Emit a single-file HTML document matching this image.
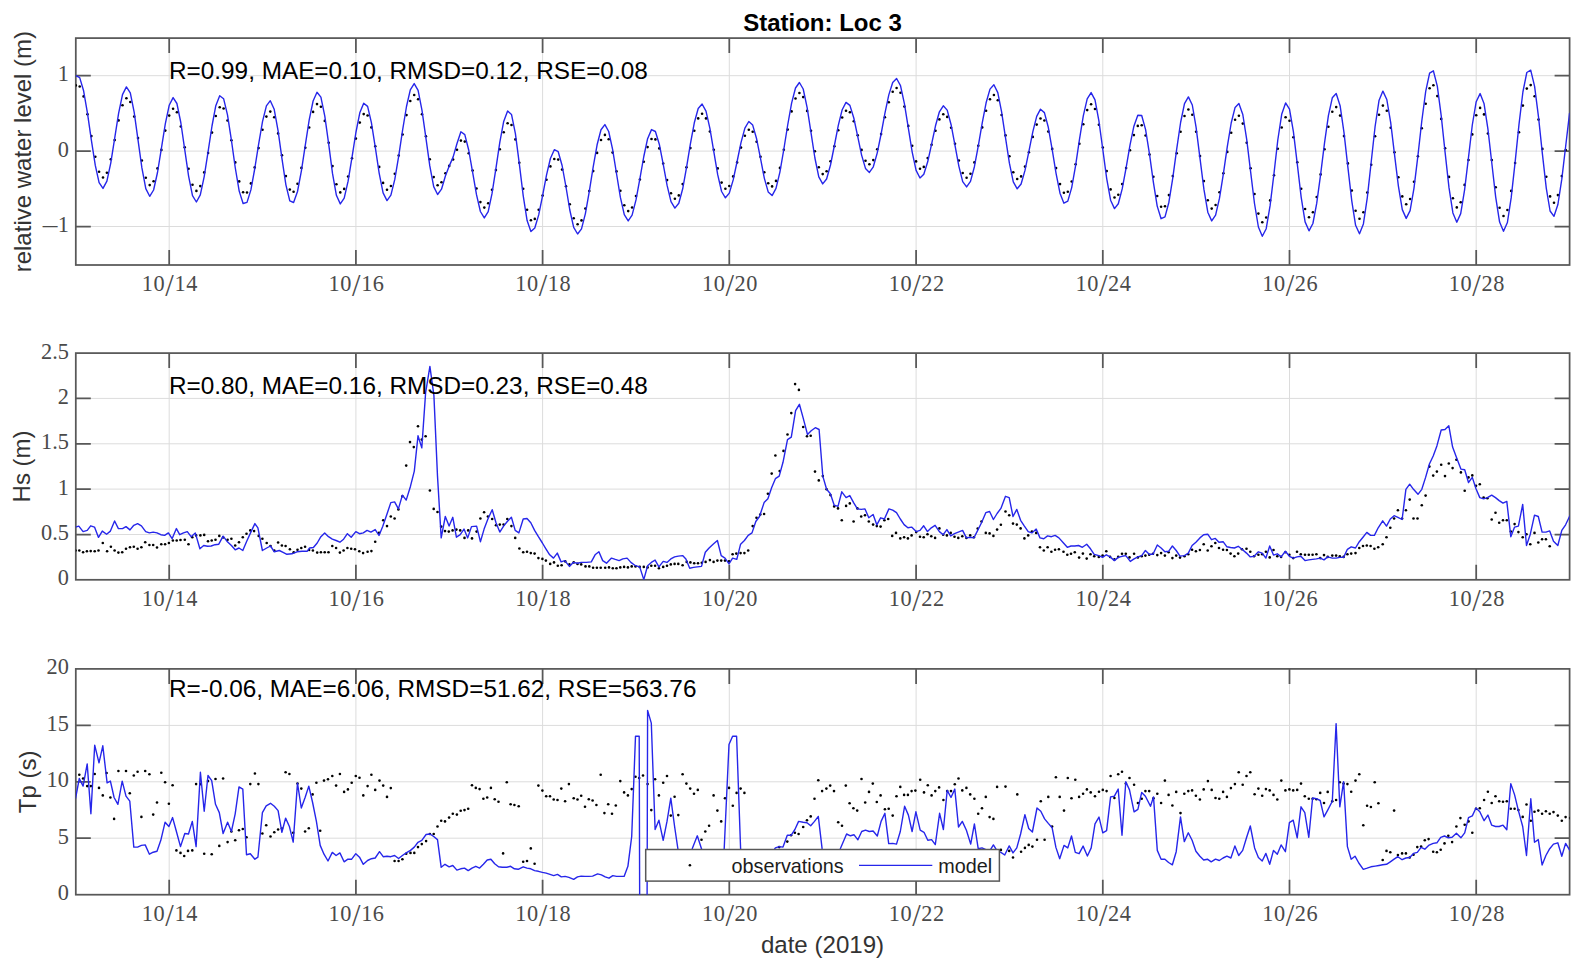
<!DOCTYPE html>
<html lang="en"><head><meta charset="utf-8"><title>Station: Loc 3</title>
<style>html,body{margin:0;padding:0;background:#fff}svg{display:block}</style></head>
<body>
<svg width="1586" height="968" viewBox="0 0 1586 968">
<rect width="1586" height="968" fill="#fff"/>
<defs>
<clipPath id="c0"><rect x="75.8" y="38.1" width="1493.8" height="226.9"/></clipPath>
<clipPath id="c1"><rect x="75.8" y="353.1" width="1493.8" height="226.7"/></clipPath>
<clipPath id="c2"><rect x="75.8" y="668.9" width="1493.8" height="225.8"/></clipPath>
</defs>
<g id="panel1">
<path d="M169.2 38.1V265M355.9 38.1V265M542.6 38.1V265M729.3 38.1V265M916.1 38.1V265M1102.8 38.1V265M1289.5 38.1V265M1476.2 38.1V265M75.8 226.5H1569.6M75.8 151.1H1569.6M75.8 75.7H1569.6" stroke="#dcdcdc" stroke-width="1" fill="none"/>
<path d="M169.2 38.1v15M169.2 265v-15M355.9 38.1v15M355.9 265v-15M542.6 38.1v15M542.6 265v-15M729.3 38.1v15M729.3 265v-15M916.1 38.1v15M916.1 265v-15M1102.8 38.1v15M1102.8 265v-15M1289.5 38.1v15M1289.5 265v-15M1476.2 38.1v15M1476.2 265v-15M75.8 226.5h15M1569.6 226.5h-15M75.8 151.1h15M1569.6 151.1h-15M75.8 75.7h15M1569.6 75.7h-15" stroke="#585858" stroke-width="1.75" fill="none"/>
<rect x="75.8" y="38.1" width="1493.8" height="226.9" fill="none" stroke="#585858" stroke-width="1.75"/>
<g clip-path="url(#c0)">
<g fill="#000"><circle cx="75.8" cy="85.4" r="1.3"/><circle cx="79.7" cy="86.5" r="1.3"/><circle cx="83.6" cy="96.4" r="1.3"/><circle cx="87.5" cy="114.3" r="1.3"/><circle cx="91.4" cy="136.1" r="1.3"/><circle cx="95.3" cy="156.8" r="1.3"/><circle cx="99.1" cy="171.8" r="1.3"/><circle cx="103" cy="177.5" r="1.3"/><circle cx="106.9" cy="172.8" r="1.3"/><circle cx="110.8" cy="159.2" r="1.3"/><circle cx="114.7" cy="140.1" r="1.3"/><circle cx="118.6" cy="120.4" r="1.3"/><circle cx="122.5" cy="105.2" r="1.3"/><circle cx="126.4" cy="98.2" r="1.3"/><circle cx="130.3" cy="102" r="1.3"/><circle cx="134.2" cy="116.6" r="1.3"/><circle cx="138" cy="138.1" r="1.3"/><circle cx="141.9" cy="160.5" r="1.3"/><circle cx="145.8" cy="177.8" r="1.3"/><circle cx="149.7" cy="185.1" r="1.3"/><circle cx="153.6" cy="181.2" r="1.3"/><circle cx="157.5" cy="168.4" r="1.3"/><circle cx="161.4" cy="149.9" r="1.3"/><circle cx="165.3" cy="130.6" r="1.3"/><circle cx="169.2" cy="115.6" r="1.3"/><circle cx="173.1" cy="108.7" r="1.3"/><circle cx="176.9" cy="112.3" r="1.3"/><circle cx="180.8" cy="126.5" r="1.3"/><circle cx="184.7" cy="147.2" r="1.3"/><circle cx="188.6" cy="168.7" r="1.3"/><circle cx="192.5" cy="184.8" r="1.3"/><circle cx="196.4" cy="190.9" r="1.3"/><circle cx="200.3" cy="186.1" r="1.3"/><circle cx="204.2" cy="172.4" r="1.3"/><circle cx="208.1" cy="153" r="1.3"/><circle cx="212" cy="132.6" r="1.3"/><circle cx="215.8" cy="116" r="1.3"/><circle cx="219.7" cy="107.2" r="1.3"/><circle cx="223.6" cy="108.5" r="1.3"/><circle cx="227.5" cy="120.5" r="1.3"/><circle cx="231.4" cy="140.2" r="1.3"/><circle cx="235.3" cy="162.4" r="1.3"/><circle cx="239.2" cy="181.4" r="1.3"/><circle cx="243.1" cy="192.3" r="1.3"/><circle cx="247" cy="192.5" r="1.3"/><circle cx="250.9" cy="183.4" r="1.3"/><circle cx="254.7" cy="167.4" r="1.3"/><circle cx="258.6" cy="148.1" r="1.3"/><circle cx="262.5" cy="129.8" r="1.3"/><circle cx="266.4" cy="116.6" r="1.3"/><circle cx="270.3" cy="111.6" r="1.3"/><circle cx="274.2" cy="117.2" r="1.3"/><circle cx="278.1" cy="133.4" r="1.3"/><circle cx="282" cy="155.2" r="1.3"/><circle cx="285.9" cy="176.1" r="1.3"/><circle cx="289.8" cy="189.6" r="1.3"/><circle cx="293.6" cy="191.8" r="1.3"/><circle cx="297.5" cy="183.8" r="1.3"/><circle cx="301.4" cy="167.9" r="1.3"/><circle cx="305.3" cy="147.7" r="1.3"/><circle cx="309.2" cy="127.5" r="1.3"/><circle cx="313.1" cy="111.9" r="1.3"/><circle cx="317" cy="104.1" r="1.3"/><circle cx="320.9" cy="106.7" r="1.3"/><circle cx="324.8" cy="120.9" r="1.3"/><circle cx="328.7" cy="142.7" r="1.3"/><circle cx="332.5" cy="166.1" r="1.3"/><circle cx="336.4" cy="184.3" r="1.3"/><circle cx="340.3" cy="192.4" r="1.3"/><circle cx="344.2" cy="188.9" r="1.3"/><circle cx="348.1" cy="176.5" r="1.3"/><circle cx="352" cy="158.2" r="1.3"/><circle cx="355.9" cy="138.6" r="1.3"/><circle cx="359.8" cy="122.6" r="1.3"/><circle cx="363.7" cy="114.1" r="1.3"/><circle cx="367.6" cy="115.5" r="1.3"/><circle cx="371.4" cy="127.4" r="1.3"/><circle cx="375.3" cy="146.3" r="1.3"/><circle cx="379.2" cy="166.9" r="1.3"/><circle cx="383.1" cy="182.9" r="1.3"/><circle cx="387" cy="189.7" r="1.3"/><circle cx="390.9" cy="186" r="1.3"/><circle cx="394.8" cy="173.8" r="1.3"/><circle cx="398.7" cy="155.5" r="1.3"/><circle cx="402.6" cy="134.5" r="1.3"/><circle cx="406.5" cy="115.1" r="1.3"/><circle cx="410.3" cy="101" r="1.3"/><circle cx="414.2" cy="95" r="1.3"/><circle cx="418.1" cy="99.2" r="1.3"/><circle cx="422" cy="114.2" r="1.3"/><circle cx="425.9" cy="136.2" r="1.3"/><circle cx="429.8" cy="159.2" r="1.3"/><circle cx="433.7" cy="177.1" r="1.3"/><circle cx="437.6" cy="185.2" r="1.3"/><circle cx="441.5" cy="182.3" r="1.3"/><circle cx="445.4" cy="173.2" r="1.3"/><circle cx="449.2" cy="165.9" r="1.3"/><circle cx="453.1" cy="159.5" r="1.3"/><circle cx="457" cy="149.8" r="1.3"/><circle cx="460.9" cy="140.6" r="1.3"/><circle cx="464.8" cy="141.6" r="1.3"/><circle cx="468.7" cy="153.3" r="1.3"/><circle cx="472.6" cy="170.5" r="1.3"/><circle cx="476.5" cy="188.5" r="1.3"/><circle cx="480.4" cy="202.1" r="1.3"/><circle cx="484.3" cy="207.6" r="1.3"/><circle cx="488.2" cy="203.3" r="1.3"/><circle cx="492" cy="189.7" r="1.3"/><circle cx="495.9" cy="170.1" r="1.3"/><circle cx="499.8" cy="149.2" r="1.3"/><circle cx="503.7" cy="132.3" r="1.3"/><circle cx="507.6" cy="123.2" r="1.3"/><circle cx="511.5" cy="125" r="1.3"/><circle cx="515.4" cy="139.4" r="1.3"/><circle cx="519.3" cy="162.8" r="1.3"/><circle cx="523.2" cy="188.7" r="1.3"/><circle cx="527.1" cy="209.8" r="1.3"/><circle cx="530.9" cy="220.3" r="1.3"/><circle cx="534.8" cy="218.9" r="1.3"/><circle cx="538.7" cy="209.8" r="1.3"/><circle cx="542.6" cy="195.6" r="1.3"/><circle cx="546.5" cy="179.8" r="1.3"/><circle cx="550.4" cy="166.4" r="1.3"/><circle cx="554.3" cy="159" r="1.3"/><circle cx="558.2" cy="159.6" r="1.3"/><circle cx="562.1" cy="169.6" r="1.3"/><circle cx="566" cy="186.2" r="1.3"/><circle cx="569.8" cy="204.2" r="1.3"/><circle cx="573.7" cy="218.3" r="1.3"/><circle cx="577.6" cy="224.2" r="1.3"/><circle cx="581.5" cy="220.4" r="1.3"/><circle cx="585.4" cy="208.6" r="1.3"/><circle cx="589.3" cy="191" r="1.3"/><circle cx="593.2" cy="171.1" r="1.3"/><circle cx="597.1" cy="152.9" r="1.3"/><circle cx="601" cy="140" r="1.3"/><circle cx="604.9" cy="134.9" r="1.3"/><circle cx="608.7" cy="139.2" r="1.3"/><circle cx="612.6" cy="152.6" r="1.3"/><circle cx="616.5" cy="171.4" r="1.3"/><circle cx="620.4" cy="190.7" r="1.3"/><circle cx="624.3" cy="205.2" r="1.3"/><circle cx="628.2" cy="211.1" r="1.3"/><circle cx="632.1" cy="207.5" r="1.3"/><circle cx="636" cy="196" r="1.3"/><circle cx="639.9" cy="179.5" r="1.3"/><circle cx="643.8" cy="161.8" r="1.3"/><circle cx="647.6" cy="147.1" r="1.3"/><circle cx="651.5" cy="139" r="1.3"/><circle cx="655.4" cy="139.4" r="1.3"/><circle cx="659.3" cy="148.4" r="1.3"/><circle cx="663.2" cy="163.5" r="1.3"/><circle cx="667.1" cy="180.1" r="1.3"/><circle cx="671" cy="193.2" r="1.3"/><circle cx="674.9" cy="198.8" r="1.3"/><circle cx="678.8" cy="195.4" r="1.3"/><circle cx="682.7" cy="184.1" r="1.3"/><circle cx="686.5" cy="167.2" r="1.3"/><circle cx="690.4" cy="148.1" r="1.3"/><circle cx="694.3" cy="130.7" r="1.3"/><circle cx="698.2" cy="118.4" r="1.3"/><circle cx="702.1" cy="113.8" r="1.3"/><circle cx="706" cy="118.4" r="1.3"/><circle cx="709.9" cy="131.5" r="1.3"/><circle cx="713.8" cy="149.8" r="1.3"/><circle cx="717.7" cy="168.4" r="1.3"/><circle cx="721.6" cy="182.6" r="1.3"/><circle cx="725.4" cy="188.7" r="1.3"/><circle cx="729.3" cy="186" r="1.3"/><circle cx="733.2" cy="176.4" r="1.3"/><circle cx="737.1" cy="162.4" r="1.3"/><circle cx="741" cy="147.6" r="1.3"/><circle cx="744.9" cy="135.7" r="1.3"/><circle cx="748.8" cy="129.8" r="1.3"/><circle cx="752.7" cy="131.8" r="1.3"/><circle cx="756.6" cy="141.8" r="1.3"/><circle cx="760.5" cy="156.8" r="1.3"/><circle cx="764.3" cy="172.2" r="1.3"/><circle cx="768.2" cy="183.3" r="1.3"/><circle cx="772.1" cy="186.4" r="1.3"/><circle cx="776" cy="180.9" r="1.3"/><circle cx="779.9" cy="167.9" r="1.3"/><circle cx="783.8" cy="149.7" r="1.3"/><circle cx="787.7" cy="129.6" r="1.3"/><circle cx="791.6" cy="111.4" r="1.3"/><circle cx="795.5" cy="98.5" r="1.3"/><circle cx="799.4" cy="93" r="1.3"/><circle cx="803.2" cy="97.1" r="1.3"/><circle cx="807.1" cy="110.9" r="1.3"/><circle cx="811" cy="130.7" r="1.3"/><circle cx="814.9" cy="151.3" r="1.3"/><circle cx="818.8" cy="167.2" r="1.3"/><circle cx="822.7" cy="174.1" r="1.3"/><circle cx="826.6" cy="171.3" r="1.3"/><circle cx="830.5" cy="161.2" r="1.3"/><circle cx="834.4" cy="146.2" r="1.3"/><circle cx="838.3" cy="130.3" r="1.3"/><circle cx="842.2" cy="117.5" r="1.3"/><circle cx="846" cy="110.8" r="1.3"/><circle cx="849.9" cy="112.2" r="1.3"/><circle cx="853.8" cy="121.3" r="1.3"/><circle cx="857.7" cy="135.2" r="1.3"/><circle cx="861.6" cy="149.9" r="1.3"/><circle cx="865.5" cy="160.7" r="1.3"/><circle cx="869.4" cy="164.3" r="1.3"/><circle cx="873.3" cy="160.1" r="1.3"/><circle cx="877.2" cy="149.3" r="1.3"/><circle cx="881.1" cy="134.1" r="1.3"/><circle cx="884.9" cy="117.3" r="1.3"/><circle cx="888.8" cy="102.3" r="1.3"/><circle cx="892.7" cy="91.8" r="1.3"/><circle cx="896.6" cy="88" r="1.3"/><circle cx="900.5" cy="92.8" r="1.3"/><circle cx="904.4" cy="106.6" r="1.3"/><circle cx="908.3" cy="125.9" r="1.3"/><circle cx="912.2" cy="145.8" r="1.3"/><circle cx="916.1" cy="161.4" r="1.3"/><circle cx="920" cy="168.7" r="1.3"/><circle cx="923.8" cy="166.9" r="1.3"/><circle cx="927.7" cy="158.1" r="1.3"/><circle cx="931.6" cy="144.8" r="1.3"/><circle cx="935.5" cy="130.7" r="1.3"/><circle cx="939.4" cy="119.4" r="1.3"/><circle cx="943.3" cy="114.2" r="1.3"/><circle cx="947.2" cy="116.9" r="1.3"/><circle cx="951.1" cy="127.7" r="1.3"/><circle cx="955" cy="143.8" r="1.3"/><circle cx="958.9" cy="160.5" r="1.3"/><circle cx="962.7" cy="173" r="1.3"/><circle cx="966.6" cy="177.7" r="1.3"/><circle cx="970.5" cy="173.8" r="1.3"/><circle cx="974.4" cy="162.4" r="1.3"/><circle cx="978.3" cy="145.8" r="1.3"/><circle cx="982.2" cy="127.4" r="1.3"/><circle cx="986.1" cy="110.7" r="1.3"/><circle cx="990" cy="99.2" r="1.3"/><circle cx="993.9" cy="95" r="1.3"/><circle cx="997.8" cy="100.3" r="1.3"/><circle cx="1001.6" cy="115" r="1.3"/><circle cx="1005.5" cy="135.4" r="1.3"/><circle cx="1009.4" cy="156.3" r="1.3"/><circle cx="1013.3" cy="172.2" r="1.3"/><circle cx="1017.2" cy="179" r="1.3"/><circle cx="1021.1" cy="176.4" r="1.3"/><circle cx="1025" cy="166.6" r="1.3"/><circle cx="1028.9" cy="152.2" r="1.3"/><circle cx="1032.8" cy="136.9" r="1.3"/><circle cx="1036.7" cy="124.6" r="1.3"/><circle cx="1040.5" cy="118.5" r="1.3"/><circle cx="1044.4" cy="120.5" r="1.3"/><circle cx="1048.3" cy="131.6" r="1.3"/><circle cx="1052.2" cy="148.9" r="1.3"/><circle cx="1056.1" cy="168.1" r="1.3"/><circle cx="1060" cy="184.1" r="1.3"/><circle cx="1063.9" cy="192.7" r="1.3"/><circle cx="1067.8" cy="191.7" r="1.3"/><circle cx="1071.7" cy="181.5" r="1.3"/><circle cx="1075.6" cy="164.3" r="1.3"/><circle cx="1079.4" cy="143.7" r="1.3"/><circle cx="1083.3" cy="124.2" r="1.3"/><circle cx="1087.2" cy="110.1" r="1.3"/><circle cx="1091.1" cy="104.2" r="1.3"/><circle cx="1095" cy="109" r="1.3"/><circle cx="1098.9" cy="124.8" r="1.3"/><circle cx="1102.8" cy="147.5" r="1.3"/><circle cx="1106.7" cy="171.1" r="1.3"/><circle cx="1110.6" cy="189.4" r="1.3"/><circle cx="1114.5" cy="197.5" r="1.3"/><circle cx="1118.3" cy="194.8" r="1.3"/><circle cx="1122.2" cy="184.1" r="1.3"/><circle cx="1126.1" cy="168" r="1.3"/><circle cx="1130" cy="150.3" r="1.3"/><circle cx="1133.9" cy="135.1" r="1.3"/><circle cx="1137.8" cy="125.9" r="1.3"/><circle cx="1141.7" cy="125.2" r="1.3"/><circle cx="1145.6" cy="135.5" r="1.3"/><circle cx="1149.5" cy="154.5" r="1.3"/><circle cx="1153.4" cy="176.7" r="1.3"/><circle cx="1157.2" cy="196" r="1.3"/><circle cx="1161.1" cy="206.8" r="1.3"/><circle cx="1165" cy="206.2" r="1.3"/><circle cx="1168.9" cy="195.1" r="1.3"/><circle cx="1172.8" cy="176.1" r="1.3"/><circle cx="1176.7" cy="153.3" r="1.3"/><circle cx="1180.6" cy="131.7" r="1.3"/><circle cx="1184.5" cy="116" r="1.3"/><circle cx="1188.4" cy="109.5" r="1.3"/><circle cx="1192.3" cy="114.8" r="1.3"/><circle cx="1196.1" cy="131.8" r="1.3"/><circle cx="1200" cy="156" r="1.3"/><circle cx="1203.9" cy="181.1" r="1.3"/><circle cx="1207.8" cy="200.3" r="1.3"/><circle cx="1211.7" cy="208.6" r="1.3"/><circle cx="1215.6" cy="205" r="1.3"/><circle cx="1219.5" cy="192.3" r="1.3"/><circle cx="1223.4" cy="173.3" r="1.3"/><circle cx="1227.3" cy="151.9" r="1.3"/><circle cx="1231.2" cy="132.7" r="1.3"/><circle cx="1235.1" cy="119.7" r="1.3"/><circle cx="1238.9" cy="115.8" r="1.3"/><circle cx="1242.8" cy="123.6" r="1.3"/><circle cx="1246.7" cy="142.7" r="1.3"/><circle cx="1250.6" cy="168.3" r="1.3"/><circle cx="1254.5" cy="194" r="1.3"/><circle cx="1258.4" cy="213.6" r="1.3"/><circle cx="1262.3" cy="222.2" r="1.3"/><circle cx="1266.2" cy="217.5" r="1.3"/><circle cx="1270.1" cy="200.4" r="1.3"/><circle cx="1274" cy="175.3" r="1.3"/><circle cx="1277.8" cy="148.7" r="1.3"/><circle cx="1281.7" cy="127.5" r="1.3"/><circle cx="1285.6" cy="117.3" r="1.3"/><circle cx="1289.5" cy="120.7" r="1.3"/><circle cx="1293.4" cy="137.3" r="1.3"/><circle cx="1297.3" cy="162.3" r="1.3"/><circle cx="1301.2" cy="188.7" r="1.3"/><circle cx="1305.1" cy="209" r="1.3"/><circle cx="1309" cy="217.2" r="1.3"/><circle cx="1312.9" cy="212.3" r="1.3"/><circle cx="1316.7" cy="197" r="1.3"/><circle cx="1320.6" cy="174.4" r="1.3"/><circle cx="1324.5" cy="149.3" r="1.3"/><circle cx="1328.4" cy="126.8" r="1.3"/><circle cx="1332.3" cy="111.7" r="1.3"/><circle cx="1336.2" cy="107.1" r="1.3"/><circle cx="1340.1" cy="115.6" r="1.3"/><circle cx="1344" cy="136.1" r="1.3"/><circle cx="1347.9" cy="163.4" r="1.3"/><circle cx="1351.8" cy="190.6" r="1.3"/><circle cx="1355.6" cy="210.8" r="1.3"/><circle cx="1359.5" cy="218.8" r="1.3"/><circle cx="1363.4" cy="212.3" r="1.3"/><circle cx="1367.3" cy="192.6" r="1.3"/><circle cx="1371.2" cy="164.8" r="1.3"/><circle cx="1375.1" cy="136.3" r="1.3"/><circle cx="1379" cy="114.7" r="1.3"/><circle cx="1382.9" cy="105.6" r="1.3"/><circle cx="1386.8" cy="110.8" r="1.3"/><circle cx="1390.7" cy="127.8" r="1.3"/><circle cx="1394.5" cy="152.2" r="1.3"/><circle cx="1398.4" cy="177.3" r="1.3"/><circle cx="1402.3" cy="196.4" r="1.3"/><circle cx="1406.2" cy="204.3" r="1.3"/><circle cx="1410.1" cy="199" r="1.3"/><circle cx="1414" cy="181.7" r="1.3"/><circle cx="1417.9" cy="156.3" r="1.3"/><circle cx="1421.8" cy="128.3" r="1.3"/><circle cx="1425.7" cy="103.8" r="1.3"/><circle cx="1429.6" cy="88.3" r="1.3"/><circle cx="1433.4" cy="85.2" r="1.3"/><circle cx="1437.3" cy="96.1" r="1.3"/><circle cx="1441.2" cy="118.9" r="1.3"/><circle cx="1445.1" cy="148.2" r="1.3"/><circle cx="1449" cy="176.9" r="1.3"/><circle cx="1452.9" cy="198.3" r="1.3"/><circle cx="1456.8" cy="207.4" r="1.3"/><circle cx="1460.7" cy="202.3" r="1.3"/><circle cx="1464.6" cy="184.9" r="1.3"/><circle cx="1468.5" cy="160" r="1.3"/><circle cx="1472.3" cy="134.4" r="1.3"/><circle cx="1476.2" cy="115.3" r="1.3"/><circle cx="1480.1" cy="107.9" r="1.3"/><circle cx="1484" cy="114.4" r="1.3"/><circle cx="1487.9" cy="133.5" r="1.3"/><circle cx="1491.8" cy="160.1" r="1.3"/><circle cx="1495.7" cy="187.3" r="1.3"/><circle cx="1499.6" cy="207.7" r="1.3"/><circle cx="1503.5" cy="216" r="1.3"/><circle cx="1507.4" cy="210" r="1.3"/><circle cx="1511.2" cy="190.9" r="1.3"/><circle cx="1515.1" cy="163" r="1.3"/><circle cx="1519" cy="132.3" r="1.3"/><circle cx="1522.9" cy="105.6" r="1.3"/><circle cx="1526.8" cy="88.6" r="1.3"/><circle cx="1530.7" cy="85.1" r="1.3"/><circle cx="1534.6" cy="96.3" r="1.3"/><circle cx="1538.5" cy="119.6" r="1.3"/><circle cx="1542.4" cy="148.9" r="1.3"/><circle cx="1546.3" cy="176.8" r="1.3"/><circle cx="1550.1" cy="196.4" r="1.3"/><circle cx="1554" cy="202.7" r="1.3"/><circle cx="1557.9" cy="195.1" r="1.3"/><circle cx="1561.8" cy="176.1" r="1.3"/><circle cx="1565.7" cy="150" r="1.3"/></g>
<polyline points="75.8,75.7 79.7,77.6 83.6,90.8 87.5,113.4 91.4,140.3 95.3,165.4 99.1,182.7 103,188.4 106.9,181.1 110.8,162.8 114.7,138.1 118.6,113.3 122.5,94.6 126.4,86.9 130.3,92.9 134.2,112.4 138,139.9 141.9,167.9 145.8,188.6 149.7,196.3 153.6,190 157.5,172.5 161.4,148.4 165.3,123.9 169.2,105.3 173.1,97.6 176.9,103.5 180.8,122.5 184.7,149.3 188.6,176.1 192.5,195.6 196.4,202 200.3,194.9 204.2,176.6 208.1,151.7 212,126 215.8,105.7 219.7,95.7 223.6,98.7 227.5,114.9 231.4,140.2 235.3,168 239.2,191.1 243.1,203.5 247,202.4 250.9,189.9 254.7,169 258.6,144.4 262.5,121.7 266.4,105.9 270.3,100.7 274.2,109.3 278.1,130.9 282,158.9 285.9,184.8 289.8,200.9 293.6,202.5 297.5,191.5 301.4,170.8 305.3,145.1 309.2,119.9 313.1,101 317,92.3 320.9,97.1 324.8,116.1 328.7,144.2 332.5,173.4 336.4,195.3 340.3,203.9 344.2,198.1 348.1,181.2 352,157.4 355.9,132.5 359.8,112.8 363.7,103.2 367.6,106.4 371.4,122.7 375.3,147.4 379.2,173.3 383.1,192.9 387,200.6 390.9,195.2 394.8,179.4 398.7,156.2 402.6,130.2 406.5,106.5 410.3,89.9 414.2,83.6 418.1,90.3 422,110.3 425.9,137.9 429.8,165.9 433.7,186.6 437.6,194.5 441.5,189.2 445.4,176 449.2,166.1 453.1,157.1 457,143.5 460.9,131.8 464.8,134.6 468.7,150 472.6,172.1 476.5,194.7 480.4,211.5 484.3,217.9 488.2,211.6 492,193.7 495.9,168.6 499.8,142.3 503.7,121.4 507.6,110.9 511.5,114.4 515.4,133.7 519.3,163.6 523.2,195.6 527.1,220.6 530.9,231.6 534.8,228 538.7,214.9 542.6,195.7 546.5,175.2 550.4,158.5 554.3,149.7 558.2,151.7 562.1,165.5 566,187 569.8,210 573.7,227.4 577.6,234 581.5,228.8 585.4,213.6 589.3,191.4 593.2,166.9 597.1,144.8 601,129.7 604.9,124.6 608.7,131.5 612.6,149.4 616.5,173.5 620.4,197.4 624.3,214.7 628.2,220.9 632.1,215.2 636,199.9 639.9,178.6 643.8,156.5 647.6,138.7 651.5,129.6 655.4,131.5 659.3,144.2 663.2,164.2 667.1,185.4 671,201.6 674.9,208.1 678.8,203.3 682.7,188.8 686.5,167.6 690.4,143.9 694.3,122.8 698.2,108.5 702.1,104 706,111.1 709.9,128.4 713.8,151.6 717.7,174.7 721.6,191.5 725.4,197.8 729.3,193.1 733.2,179.9 737.1,161.5 741,142.6 744.9,128.1 748.8,121.5 752.7,125.1 756.6,138.8 760.5,158.4 764.3,178.1 768.2,191.9 772.1,195.6 776,188.4 779.9,172.1 783.8,149.5 787.7,125 791.6,103.2 795.5,88 799.4,82.5 803.2,89 807.1,107.3 811,132.6 814.9,158 818.8,176.8 822.7,183.9 826.6,179 830.5,165 834.4,145.5 838.3,125.4 842.2,109.7 846,102.4 849.9,105.4 853.8,118 857.7,136.4 861.6,155.1 865.5,168.4 869.4,172.4 873.3,166.8 877.2,153.1 881.1,134 884.9,113.3 888.8,94.9 892.7,82.5 896.6,78.5 900.5,85.6 904.4,103.6 908.3,127.8 912.2,152.1 916.1,170.4 920,178 923.8,174.2 927.7,161.8 931.6,144.1 935.5,125.8 939.4,111.8 943.3,105.8 947.2,110.1 951.1,124.7 955,145.3 958.9,166.3 962.7,181.6 966.6,186.9 970.5,181.4 974.4,166.7 978.3,145.9 982.2,123.1 986.1,102.8 990,89.1 993.9,84.8 997.8,92.6 1001.6,111.9 1005.5,137.6 1009.4,163.2 1013.3,181.8 1017.2,188.8 1021.1,184 1025,170.4 1028.9,151.4 1032.8,131.8 1036.7,116.4 1040.5,109.2 1044.4,112.6 1048.3,127.3 1052.2,149.6 1056.1,173.6 1060,193.2 1063.9,203.2 1067.8,201.1 1071.7,187.6 1075.6,165.6 1079.4,139.8 1083.3,115.8 1087.2,98.9 1091.1,92.6 1095,99.9 1098.9,120.8 1102.8,149.5 1106.7,178.6 1110.6,200.2 1114.5,208.6 1118.3,203.7 1122.2,188.9 1126.1,167.8 1130,145.2 1133.9,126.2 1137.8,115.3 1141.7,115.5 1145.6,129.6 1149.5,154.2 1153.4,182.4 1157.2,206.1 1161.1,218.7 1165,216.9 1168.9,202.2 1172.8,177.8 1176.7,149.2 1180.6,122.5 1184.5,103.7 1188.4,96.9 1192.3,105 1196.1,127.4 1200,158.3 1203.9,189.2 1207.8,212.2 1211.7,220.9 1215.6,215.1 1219.5,198.2 1223.4,173.6 1227.3,146.7 1231.2,123 1235.1,107.4 1238.9,103.5 1242.8,114.5 1246.7,139.3 1250.6,171.6 1254.5,203.5 1258.4,227 1262.3,236.3 1266.2,228.7 1270.1,205.7 1274,173.4 1277.8,140 1281.7,114.3 1285.6,102.9 1289.5,109.1 1293.4,131.7 1297.3,164.1 1301.2,197.3 1305.1,221.9 1309,230.8 1312.9,223.5 1316.7,203.4 1320.6,174.6 1324.5,143.2 1328.4,115.7 1332.3,97.8 1336.2,93.5 1340.1,105.7 1344,132.6 1347.9,167.3 1351.8,201.1 1355.6,225.3 1359.5,233.8 1363.4,223.9 1367.3,197.6 1371.2,162 1375.1,126.5 1379,100.6 1382.9,91.1 1386.8,99.5 1390.7,122.7 1394.5,154.4 1398.4,186.1 1402.3,209.6 1406.2,218.4 1410.1,210.6 1414,188.1 1417.9,155.9 1421.8,121 1425.7,91.3 1429.6,73.2 1433.4,70.8 1437.3,86.1 1441.2,115.6 1445.1,152.4 1449,187.7 1452.9,212.9 1456.8,222.2 1460.7,213.6 1464.6,189.8 1468.5,157.3 1472.3,125 1476.2,101.7 1480.1,93.6 1484,103.4 1487.9,128.8 1491.8,163 1495.7,197.1 1499.6,222.1 1503.5,231.3 1507.4,222.5 1511.2,197.7 1515.1,162.4 1519,124.4 1522.9,92 1526.8,72.5 1530.7,70.2 1534.6,86.3 1538.5,116.8 1542.4,153.9 1546.3,188.3 1550.1,211 1554,216.3 1557.9,204.5 1561.8,179.2 1565.7,146 1569.6,112.8" fill="none" stroke="#2626ea" stroke-width="1.4" stroke-linejoin="round"/>
</g>
<g font-family="'Liberation Serif', serif" font-size="22.3" fill="#4a4a4a">
<text x="169.9" y="291.1" text-anchor="middle" letter-spacing="0.6">10<tspan font-size="30.5" dy="5.2">/</tspan><tspan dy="-5.2">14</tspan></text>
<text x="356.6" y="291.1" text-anchor="middle" letter-spacing="0.6">10<tspan font-size="30.5" dy="5.2">/</tspan><tspan dy="-5.2">16</tspan></text>
<text x="543.3" y="291.1" text-anchor="middle" letter-spacing="0.6">10<tspan font-size="30.5" dy="5.2">/</tspan><tspan dy="-5.2">18</tspan></text>
<text x="730" y="291.1" text-anchor="middle" letter-spacing="0.6">10<tspan font-size="30.5" dy="5.2">/</tspan><tspan dy="-5.2">20</tspan></text>
<text x="916.8" y="291.1" text-anchor="middle" letter-spacing="0.6">10<tspan font-size="30.5" dy="5.2">/</tspan><tspan dy="-5.2">22</tspan></text>
<text x="1103.5" y="291.1" text-anchor="middle" letter-spacing="0.6">10<tspan font-size="30.5" dy="5.2">/</tspan><tspan dy="-5.2">24</tspan></text>
<text x="1290.2" y="291.1" text-anchor="middle" letter-spacing="0.6">10<tspan font-size="30.5" dy="5.2">/</tspan><tspan dy="-5.2">26</tspan></text>
<text x="1476.9" y="291.1" text-anchor="middle" letter-spacing="0.6">10<tspan font-size="30.5" dy="5.2">/</tspan><tspan dy="-5.2">28</tspan></text>
<text transform="translate(41.0 234) scale(1.45 1)">−</text>
<text x="68.9" y="232" text-anchor="end">1</text>
<text x="68.9" y="156.6" text-anchor="end">0</text>
<text x="68.9" y="81.2" text-anchor="end">1</text>
</g>
<text transform="translate(30.6 151.6) rotate(-90)" text-anchor="middle" font-family="'Liberation Sans', sans-serif" font-size="24" fill="#333333">relative water level (m)</text>
<text x="169.0" y="79" font-family="'Liberation Sans', sans-serif" font-size="24.33" fill="#000">R=0.99, MAE=0.10, RMSD=0.12, RSE=0.08</text>
</g>
<g id="panel2">
<path d="M169.2 353.1V579.8M355.9 353.1V579.8M542.6 353.1V579.8M729.3 353.1V579.8M916.1 353.1V579.8M1102.8 353.1V579.8M1289.5 353.1V579.8M1476.2 353.1V579.8M75.8 534.5H1569.6M75.8 489.1H1569.6M75.8 443.8H1569.6M75.8 398.4H1569.6" stroke="#dcdcdc" stroke-width="1" fill="none"/>
<path d="M169.2 353.1v15M169.2 579.8v-15M355.9 353.1v15M355.9 579.8v-15M542.6 353.1v15M542.6 579.8v-15M729.3 353.1v15M729.3 579.8v-15M916.1 353.1v15M916.1 579.8v-15M1102.8 353.1v15M1102.8 579.8v-15M1289.5 353.1v15M1289.5 579.8v-15M1476.2 353.1v15M1476.2 579.8v-15M75.8 534.5h15M1569.6 534.5h-15M75.8 489.1h15M1569.6 489.1h-15M75.8 443.8h15M1569.6 443.8h-15M75.8 398.4h15M1569.6 398.4h-15" stroke="#585858" stroke-width="1.75" fill="none"/>
<rect x="75.8" y="353.1" width="1493.8" height="226.7" fill="none" stroke="#585858" stroke-width="1.75"/>
<g clip-path="url(#c1)">
<g fill="#000"><circle cx="75.5" cy="550.5" r="1.3"/><circle cx="79.3" cy="550.5" r="1.3"/><circle cx="83.1" cy="552.3" r="1.3"/><circle cx="86.9" cy="551.3" r="1.3"/><circle cx="90.7" cy="551.1" r="1.3"/><circle cx="94.7" cy="551.3" r="1.3"/><circle cx="98.5" cy="550.5" r="1.3"/><circle cx="102.8" cy="543" r="1.3"/><circle cx="107.1" cy="551.3" r="1.3"/><circle cx="110.9" cy="546.8" r="1.3"/><circle cx="114.6" cy="550.5" r="1.3"/><circle cx="118.4" cy="552.6" r="1.3"/><circle cx="122.2" cy="552.3" r="1.3"/><circle cx="126" cy="548.8" r="1.3"/><circle cx="130" cy="547.3" r="1.3"/><circle cx="133.8" cy="546.8" r="1.3"/><circle cx="137.6" cy="548.8" r="1.3"/><circle cx="141.4" cy="547.3" r="1.3"/><circle cx="145.2" cy="542.2" r="1.3"/><circle cx="149.4" cy="545" r="1.3"/><circle cx="153.2" cy="545" r="1.3"/><circle cx="157" cy="547.5" r="1.3"/><circle cx="161.3" cy="544.2" r="1.3"/><circle cx="165.1" cy="544.2" r="1.3"/><circle cx="168.9" cy="543" r="1.3"/><circle cx="172.9" cy="540.5" r="1.3"/><circle cx="176.7" cy="540.5" r="1.3"/><circle cx="180.5" cy="540" r="1.3"/><circle cx="184.8" cy="539.7" r="1.3"/><circle cx="188.5" cy="544.2" r="1.3"/><circle cx="192.3" cy="537.2" r="1.3"/><circle cx="196.1" cy="535.4" r="1.3"/><circle cx="200.4" cy="535.4" r="1.3"/><circle cx="204.2" cy="534.9" r="1.3"/><circle cx="208" cy="541.2" r="1.3"/><circle cx="211.7" cy="540.5" r="1.3"/><circle cx="215.5" cy="539.7" r="1.3"/><circle cx="219.3" cy="535.9" r="1.3"/><circle cx="223.1" cy="537.4" r="1.3"/><circle cx="227.6" cy="539.7" r="1.3"/><circle cx="231.4" cy="538.7" r="1.3"/><circle cx="235.2" cy="545.5" r="1.3"/><circle cx="239" cy="542.2" r="1.3"/><circle cx="242.8" cy="537.2" r="1.3"/><circle cx="246.5" cy="533.7" r="1.3"/><circle cx="250.3" cy="530.4" r="1.3"/><circle cx="254.1" cy="531.1" r="1.3"/><circle cx="258.7" cy="535.9" r="1.3"/><circle cx="262.4" cy="538.7" r="1.3"/><circle cx="266.7" cy="543" r="1.3"/><circle cx="270.5" cy="546" r="1.3"/><circle cx="274.3" cy="550.5" r="1.3"/><circle cx="278.1" cy="542.5" r="1.3"/><circle cx="281.9" cy="545.5" r="1.3"/><circle cx="285.6" cy="546" r="1.3"/><circle cx="289.9" cy="549.3" r="1.3"/><circle cx="293.7" cy="552.3" r="1.3"/><circle cx="297.5" cy="549.8" r="1.3"/><circle cx="301.3" cy="548" r="1.3"/><circle cx="305.1" cy="546.8" r="1.3"/><circle cx="309.1" cy="550" r="1.3"/><circle cx="312.9" cy="550.5" r="1.3"/><circle cx="317.2" cy="552.6" r="1.3"/><circle cx="320.9" cy="552.3" r="1.3"/><circle cx="324.7" cy="552.3" r="1.3"/><circle cx="328.5" cy="552.3" r="1.3"/><circle cx="332.3" cy="546" r="1.3"/><circle cx="336.1" cy="548" r="1.3"/><circle cx="339.9" cy="552.6" r="1.3"/><circle cx="343.6" cy="550.5" r="1.3"/><circle cx="347.4" cy="548" r="1.3"/><circle cx="351.2" cy="548.8" r="1.3"/><circle cx="355" cy="549.3" r="1.3"/><circle cx="359.3" cy="551.3" r="1.3"/><circle cx="363.1" cy="553.1" r="1.3"/><circle cx="367.6" cy="551.8" r="1.3"/><circle cx="371.4" cy="551.1" r="1.3"/><circle cx="375.2" cy="541.7" r="1.3"/><circle cx="379" cy="532.9" r="1.3"/><circle cx="383.2" cy="520.3" r="1.3"/><circle cx="387" cy="526.1" r="1.3"/><circle cx="390.8" cy="516.5" r="1.3"/><circle cx="394.6" cy="518.5" r="1.3"/><circle cx="398.4" cy="509.4" r="1.3"/><circle cx="402.4" cy="496.3" r="1.3"/><circle cx="406.2" cy="465.6" r="1.3"/><circle cx="410" cy="442.1" r="1.3"/><circle cx="413.8" cy="447.1" r="1.3"/><circle cx="418" cy="426.2" r="1.3"/><circle cx="421.8" cy="439.6" r="1.3"/><circle cx="425.6" cy="436.3" r="1.3"/><circle cx="429.9" cy="490.5" r="1.3"/><circle cx="433.7" cy="508.9" r="1.3"/><circle cx="437.5" cy="512" r="1.3"/><circle cx="441.2" cy="526.6" r="1.3"/><circle cx="445" cy="531.1" r="1.3"/><circle cx="448.8" cy="531.6" r="1.3"/><circle cx="452.6" cy="530.4" r="1.3"/><circle cx="456.4" cy="529.6" r="1.3"/><circle cx="460.2" cy="530.4" r="1.3"/><circle cx="464.5" cy="537.9" r="1.3"/><circle cx="468.2" cy="530.4" r="1.3"/><circle cx="472" cy="538.4" r="1.3"/><circle cx="476.6" cy="531.6" r="1.3"/><circle cx="480.4" cy="518.5" r="1.3"/><circle cx="484.1" cy="512.2" r="1.3"/><circle cx="487.9" cy="516.5" r="1.3"/><circle cx="492.2" cy="519" r="1.3"/><circle cx="496" cy="525.3" r="1.3"/><circle cx="499.8" cy="524.6" r="1.3"/><circle cx="503.6" cy="524.6" r="1.3"/><circle cx="507.3" cy="519" r="1.3"/><circle cx="511.4" cy="526.1" r="1.3"/><circle cx="515.2" cy="537.9" r="1.3"/><circle cx="519.4" cy="548.5" r="1.3"/><circle cx="523.2" cy="552.3" r="1.3"/><circle cx="527" cy="551.8" r="1.3"/><circle cx="530.8" cy="553.1" r="1.3"/><circle cx="534.6" cy="553.6" r="1.3"/><circle cx="538.4" cy="558.1" r="1.3"/><circle cx="542.4" cy="558.9" r="1.3"/><circle cx="545.9" cy="560.6" r="1.3"/><circle cx="550.2" cy="563.9" r="1.3"/><circle cx="554" cy="562.4" r="1.3"/><circle cx="557.8" cy="565.7" r="1.3"/><circle cx="561.6" cy="565.2" r="1.3"/><circle cx="565.3" cy="561.4" r="1.3"/><circle cx="569.4" cy="564.4" r="1.3"/><circle cx="573.7" cy="562.4" r="1.3"/><circle cx="577.5" cy="563.9" r="1.3"/><circle cx="581.2" cy="564.4" r="1.3"/><circle cx="585.5" cy="566.4" r="1.3"/><circle cx="589.3" cy="566.4" r="1.3"/><circle cx="593.1" cy="567.7" r="1.3"/><circle cx="596.9" cy="567.7" r="1.3"/><circle cx="600.7" cy="567.7" r="1.3"/><circle cx="605.2" cy="567.7" r="1.3"/><circle cx="609" cy="567.4" r="1.3"/><circle cx="612.8" cy="568.2" r="1.3"/><circle cx="616.5" cy="568.2" r="1.3"/><circle cx="620.3" cy="567.4" r="1.3"/><circle cx="624.1" cy="566.9" r="1.3"/><circle cx="627.9" cy="567.4" r="1.3"/><circle cx="631.7" cy="566.4" r="1.3"/><circle cx="635.5" cy="566.4" r="1.3"/><circle cx="639.7" cy="566.9" r="1.3"/><circle cx="643.8" cy="566.9" r="1.3"/><circle cx="647.6" cy="567.4" r="1.3"/><circle cx="651.3" cy="565.7" r="1.3"/><circle cx="655.1" cy="565.7" r="1.3"/><circle cx="658.9" cy="568.2" r="1.3"/><circle cx="663.2" cy="566.9" r="1.3"/><circle cx="667" cy="565.7" r="1.3"/><circle cx="670.8" cy="564.4" r="1.3"/><circle cx="674.6" cy="563.9" r="1.3"/><circle cx="678.3" cy="563.9" r="1.3"/><circle cx="682.6" cy="565.2" r="1.3"/><circle cx="686.7" cy="561.9" r="1.3"/><circle cx="690.4" cy="562.4" r="1.3"/><circle cx="694.2" cy="563.2" r="1.3"/><circle cx="698" cy="563.2" r="1.3"/><circle cx="701.8" cy="562.7" r="1.3"/><circle cx="705.6" cy="561.9" r="1.3"/><circle cx="709.9" cy="560.1" r="1.3"/><circle cx="713.6" cy="561.9" r="1.3"/><circle cx="717.4" cy="560.6" r="1.3"/><circle cx="721.2" cy="560.6" r="1.3"/><circle cx="725" cy="560.6" r="1.3"/><circle cx="729" cy="561.4" r="1.3"/><circle cx="732.6" cy="554.3" r="1.3"/><circle cx="736.3" cy="553.6" r="1.3"/><circle cx="740.6" cy="553.1" r="1.3"/><circle cx="744.4" cy="553.1" r="1.3"/><circle cx="748.2" cy="550.5" r="1.3"/><circle cx="752.7" cy="526.1" r="1.3"/><circle cx="756.5" cy="517.8" r="1.3"/><circle cx="760.3" cy="514.5" r="1.3"/><circle cx="764.1" cy="514" r="1.3"/><circle cx="767.9" cy="493.8" r="1.3"/><circle cx="771.7" cy="473.6" r="1.3"/><circle cx="775.4" cy="455.5" r="1.3"/><circle cx="779.7" cy="471.1" r="1.3"/><circle cx="783.5" cy="450.9" r="1.3"/><circle cx="787.5" cy="434.5" r="1.3"/><circle cx="791.3" cy="413.1" r="1.3"/><circle cx="795.1" cy="384.1" r="1.3"/><circle cx="798.9" cy="389.9" r="1.3"/><circle cx="803.2" cy="427" r="1.3"/><circle cx="807" cy="436.3" r="1.3"/><circle cx="810.7" cy="435.8" r="1.3"/><circle cx="815" cy="471.6" r="1.3"/><circle cx="818.8" cy="480.4" r="1.3"/><circle cx="822.8" cy="476.1" r="1.3"/><circle cx="826.6" cy="489.3" r="1.3"/><circle cx="830.4" cy="495.1" r="1.3"/><circle cx="834.2" cy="506.4" r="1.3"/><circle cx="838" cy="508.4" r="1.3"/><circle cx="841.8" cy="520.3" r="1.3"/><circle cx="846.1" cy="505.9" r="1.3"/><circle cx="849.8" cy="503.4" r="1.3"/><circle cx="853.6" cy="521.5" r="1.3"/><circle cx="857.4" cy="508.4" r="1.3"/><circle cx="861.2" cy="516.5" r="1.3"/><circle cx="865" cy="515.2" r="1.3"/><circle cx="868.8" cy="521.5" r="1.3"/><circle cx="873.1" cy="524.6" r="1.3"/><circle cx="876.8" cy="526.1" r="1.3"/><circle cx="880.6" cy="526.6" r="1.3"/><circle cx="884.4" cy="520.3" r="1.3"/><circle cx="888.2" cy="519" r="1.3"/><circle cx="892.2" cy="535.9" r="1.3"/><circle cx="896" cy="532.9" r="1.3"/><circle cx="900.3" cy="538.4" r="1.3"/><circle cx="904.1" cy="537.2" r="1.3"/><circle cx="907.9" cy="538.4" r="1.3"/><circle cx="911.6" cy="535.4" r="1.3"/><circle cx="916.2" cy="532.1" r="1.3"/><circle cx="920" cy="536.7" r="1.3"/><circle cx="923.7" cy="537.2" r="1.3"/><circle cx="927.5" cy="534.2" r="1.3"/><circle cx="931.3" cy="536.2" r="1.3"/><circle cx="935.1" cy="537.9" r="1.3"/><circle cx="939.4" cy="528.4" r="1.3"/><circle cx="943.2" cy="534.7" r="1.3"/><circle cx="946.9" cy="535.4" r="1.3"/><circle cx="950.7" cy="532.9" r="1.3"/><circle cx="954.5" cy="536.7" r="1.3"/><circle cx="958.3" cy="537.9" r="1.3"/><circle cx="962.3" cy="536.2" r="1.3"/><circle cx="966.4" cy="537.9" r="1.3"/><circle cx="970.2" cy="535.4" r="1.3"/><circle cx="973.9" cy="537.2" r="1.3"/><circle cx="977.7" cy="528.6" r="1.3"/><circle cx="981.5" cy="521.5" r="1.3"/><circle cx="985.8" cy="532.9" r="1.3"/><circle cx="989.6" cy="533.4" r="1.3"/><circle cx="993.4" cy="535.9" r="1.3"/><circle cx="997.1" cy="529.6" r="1.3"/><circle cx="1000.9" cy="524.8" r="1.3"/><circle cx="1005.5" cy="511.5" r="1.3"/><circle cx="1009.2" cy="515.2" r="1.3"/><circle cx="1013" cy="523.6" r="1.3"/><circle cx="1016.8" cy="524.6" r="1.3"/><circle cx="1020.6" cy="528.4" r="1.3"/><circle cx="1024.4" cy="538.4" r="1.3"/><circle cx="1028.2" cy="535.4" r="1.3"/><circle cx="1031.9" cy="531.6" r="1.3"/><circle cx="1036.2" cy="532.9" r="1.3"/><circle cx="1040" cy="547.3" r="1.3"/><circle cx="1043.8" cy="550.5" r="1.3"/><circle cx="1047.6" cy="547.3" r="1.3"/><circle cx="1051.4" cy="551.8" r="1.3"/><circle cx="1055.1" cy="549.8" r="1.3"/><circle cx="1058.9" cy="549.3" r="1.3"/><circle cx="1063.5" cy="551.8" r="1.3"/><circle cx="1067.3" cy="554.8" r="1.3"/><circle cx="1071" cy="553.8" r="1.3"/><circle cx="1074.8" cy="552.3" r="1.3"/><circle cx="1079.1" cy="557.6" r="1.3"/><circle cx="1082.9" cy="553.6" r="1.3"/><circle cx="1086.7" cy="558.6" r="1.3"/><circle cx="1090.5" cy="554.3" r="1.3"/><circle cx="1094.2" cy="556.3" r="1.3"/><circle cx="1098.8" cy="556.9" r="1.3"/><circle cx="1102.6" cy="555.6" r="1.3"/><circle cx="1106.3" cy="551.3" r="1.3"/><circle cx="1110.1" cy="556.9" r="1.3"/><circle cx="1114.4" cy="559.4" r="1.3"/><circle cx="1118.2" cy="556.9" r="1.3"/><circle cx="1122" cy="553.8" r="1.3"/><circle cx="1125.8" cy="553.8" r="1.3"/><circle cx="1129.5" cy="557.4" r="1.3"/><circle cx="1134.1" cy="553.8" r="1.3"/><circle cx="1137.9" cy="557.4" r="1.3"/><circle cx="1141.7" cy="556.3" r="1.3"/><circle cx="1145.4" cy="555.6" r="1.3"/><circle cx="1149.2" cy="554.8" r="1.3"/><circle cx="1153" cy="553.8" r="1.3"/><circle cx="1157.3" cy="555.1" r="1.3"/><circle cx="1161.1" cy="553.1" r="1.3"/><circle cx="1164.9" cy="555.6" r="1.3"/><circle cx="1168.6" cy="552.3" r="1.3"/><circle cx="1172.4" cy="558.1" r="1.3"/><circle cx="1176.2" cy="555.6" r="1.3"/><circle cx="1180" cy="557.6" r="1.3"/><circle cx="1184.5" cy="556.3" r="1.3"/><circle cx="1188.3" cy="554.3" r="1.3"/><circle cx="1192.1" cy="549.8" r="1.3"/><circle cx="1195.9" cy="551.3" r="1.3"/><circle cx="1199.9" cy="550" r="1.3"/><circle cx="1203.7" cy="544.2" r="1.3"/><circle cx="1207.7" cy="550.5" r="1.3"/><circle cx="1211.5" cy="546.3" r="1.3"/><circle cx="1215.3" cy="543" r="1.3"/><circle cx="1219" cy="548" r="1.3"/><circle cx="1223.1" cy="549.8" r="1.3"/><circle cx="1226.9" cy="550" r="1.3"/><circle cx="1230.6" cy="553.6" r="1.3"/><circle cx="1234.4" cy="556.3" r="1.3"/><circle cx="1238.2" cy="553.6" r="1.3"/><circle cx="1242" cy="549.3" r="1.3"/><circle cx="1246.5" cy="548.8" r="1.3"/><circle cx="1250.3" cy="551.8" r="1.3"/><circle cx="1254.1" cy="556.3" r="1.3"/><circle cx="1258.4" cy="554.8" r="1.3"/><circle cx="1262.2" cy="554.3" r="1.3"/><circle cx="1265.9" cy="551.8" r="1.3"/><circle cx="1269.7" cy="557.4" r="1.3"/><circle cx="1273.5" cy="550" r="1.3"/><circle cx="1277.3" cy="556.3" r="1.3"/><circle cx="1281.1" cy="556.9" r="1.3"/><circle cx="1285.4" cy="552.3" r="1.3"/><circle cx="1289.4" cy="554.8" r="1.3"/><circle cx="1293.2" cy="558.1" r="1.3"/><circle cx="1297" cy="551.8" r="1.3"/><circle cx="1300.8" cy="554.3" r="1.3"/><circle cx="1305" cy="554.8" r="1.3"/><circle cx="1308.8" cy="554.8" r="1.3"/><circle cx="1312.6" cy="554.8" r="1.3"/><circle cx="1316.4" cy="554.3" r="1.3"/><circle cx="1320.2" cy="558.1" r="1.3"/><circle cx="1324" cy="555.1" r="1.3"/><circle cx="1327.7" cy="556.9" r="1.3"/><circle cx="1332.3" cy="555.6" r="1.3"/><circle cx="1336.1" cy="555.6" r="1.3"/><circle cx="1339.8" cy="556.3" r="1.3"/><circle cx="1343.6" cy="556.9" r="1.3"/><circle cx="1347.4" cy="554.3" r="1.3"/><circle cx="1351.2" cy="553.6" r="1.3"/><circle cx="1355.5" cy="553.1" r="1.3"/><circle cx="1359.3" cy="548" r="1.3"/><circle cx="1363" cy="546" r="1.3"/><circle cx="1366.8" cy="545.5" r="1.3"/><circle cx="1370.6" cy="546" r="1.3"/><circle cx="1374.4" cy="548.8" r="1.3"/><circle cx="1378.2" cy="547.3" r="1.3"/><circle cx="1382.7" cy="544.2" r="1.3"/><circle cx="1386.5" cy="537.2" r="1.3"/><circle cx="1390.3" cy="527.8" r="1.3"/><circle cx="1394.1" cy="518.5" r="1.3"/><circle cx="1397.9" cy="510.2" r="1.3"/><circle cx="1402.1" cy="518.5" r="1.3"/><circle cx="1405.9" cy="510.2" r="1.3"/><circle cx="1409.7" cy="499.6" r="1.3"/><circle cx="1413.5" cy="518.5" r="1.3"/><circle cx="1417.5" cy="518.5" r="1.3"/><circle cx="1421.8" cy="505.2" r="1.3"/><circle cx="1425.6" cy="495.6" r="1.3"/><circle cx="1429.4" cy="466.6" r="1.3"/><circle cx="1433.2" cy="475.6" r="1.3"/><circle cx="1436.9" cy="471.6" r="1.3"/><circle cx="1441.2" cy="464.8" r="1.3"/><circle cx="1445" cy="476.1" r="1.3"/><circle cx="1448.8" cy="463.5" r="1.3"/><circle cx="1452.6" cy="468.1" r="1.3"/><circle cx="1456.4" cy="459.8" r="1.3"/><circle cx="1460.9" cy="472.4" r="1.3"/><circle cx="1464.7" cy="490.8" r="1.3"/><circle cx="1468.5" cy="477.4" r="1.3"/><circle cx="1472.3" cy="475.4" r="1.3"/><circle cx="1476" cy="485.7" r="1.3"/><circle cx="1479.8" cy="484.2" r="1.3"/><circle cx="1483.6" cy="497.6" r="1.3"/><circle cx="1487.4" cy="498.3" r="1.3"/><circle cx="1491.7" cy="519.5" r="1.3"/><circle cx="1495.5" cy="512.7" r="1.3"/><circle cx="1499.2" cy="522.8" r="1.3"/><circle cx="1503" cy="520.3" r="1.3"/><circle cx="1506.8" cy="520.3" r="1.3"/><circle cx="1510.8" cy="531.6" r="1.3"/><circle cx="1514.6" cy="524.1" r="1.3"/><circle cx="1518.4" cy="532.1" r="1.3"/><circle cx="1522.7" cy="537.2" r="1.3"/><circle cx="1526.5" cy="534.2" r="1.3"/><circle cx="1530.3" cy="544.2" r="1.3"/><circle cx="1534.5" cy="532.9" r="1.3"/><circle cx="1538.3" cy="542.5" r="1.3"/><circle cx="1542.1" cy="539.2" r="1.3"/><circle cx="1545.9" cy="539.2" r="1.3"/><circle cx="1549.7" cy="546.3" r="1.3"/></g>
<polyline points="75.5,527.1 78.8,526.1 83.1,531.6 87.2,530.4 90.7,525.8 94.5,527.1 98.5,537.4 102.3,531.1 106.6,534.2 110.4,531.1 114.6,521 118.4,528.6 122.5,528.6 126,526.6 130,529.9 133.8,525.3 137.6,523.6 141.4,525.8 145.7,531.6 149.4,532.9 153.2,532.1 157,532.9 160.8,534.7 164.6,535.4 168.4,532.9 172.1,538.7 176.4,528.6 179.7,534.7 183.5,532.9 187.3,531.6 191.1,536.7 195.3,532.9 199.9,548.8 203.7,545.5 207.5,546.3 211.2,546 215,544.7 218.8,544.2 223.1,536.2 226.9,541.2 231.4,545.5 235.2,549.8 239,548 242.8,550.5 246.5,541.7 251.1,531.6 254.9,523.6 257.9,527.8 262.4,550.5 266.7,548 270.5,546 274.3,551.8 279.3,550.5 283.1,552.3 286.9,554.3 291.9,553.8 297,551.8 302,551.3 307.1,551.3 309.6,548 313.4,547.5 317.2,543 320.9,536.7 324.7,532.9 328.5,536.7 332.3,539.2 336.1,540.5 339.9,542.2 343.6,539.2 347.4,533.7 351.2,537.2 355.8,531.6 359.5,533.7 363.3,532.9 367.1,530.4 370.9,532.1 375.2,529.6 379,535.4 382.7,526.6 387,514 390.8,502.6 394.6,501.9 398.4,508.9 402.4,495.1 406.2,500.1 410.5,486.2 414.3,471.1 418,435.8 421.8,447.9 425.6,392.9 429.9,366.4 433.9,395.4 437.5,476.1 441.2,537.9 445.3,516.5 449.1,526.1 452.8,517.3 456.4,537.2 460.2,534.7 464,529.1 467.7,537.9 471.5,526.6 476.6,526.1 480.4,541.7 484.1,529.1 487.9,519 492.2,509.7 496,522.8 499.8,532.1 503.6,526.1 507.3,521.5 511.4,517.3 515.2,530.4 518.9,532.9 523.2,519 527,518.5 530.8,522.8 534.6,530.4 538.4,536.7 542.4,543 545.9,548.8 549.7,554.8 553.5,558.1 557.3,553.1 561.1,561.9 564.8,560.6 569.4,566.4 573.2,562.4 577.5,563.2 581.2,562.4 586.3,562.4 591.3,561.9 595.1,554.8 598.9,551.8 602.7,560.6 606.5,563.2 611.5,558.1 615.3,559.4 619.1,560.6 622.8,558.9 627.1,558.1 630.9,562.4 635.5,565.7 639.7,566.9 643.8,579.6 647.6,565.7 651.3,562.4 655.1,560.1 658.9,566.9 663.2,561.4 667,562.4 670.8,558.9 674.6,556.9 678.3,556.1 682.6,555.6 685.9,558.9 689.7,568.2 693.5,567.4 697.3,566.9 701.5,566.4 705.3,552.3 709.1,548 713.1,544.2 717.4,540.5 721.2,555.6 725,558.1 729,563.9 732.6,558.1 736.8,559.4 740.6,544.2 744.4,540.5 748.2,535.4 752,532.9 755.8,521.5 759.5,516.5 764.1,502.6 767.9,498.8 771.7,487.5 775.4,478.7 779.2,476.1 783,462.3 787.5,439.6 791.3,437.1 795.6,410.6 799.4,404.3 803.2,418.1 807.5,434.5 811.2,430.8 815.3,427.7 819.1,429.5 822.8,476.1 826.6,489.3 830.4,493.8 834.2,505.2 838,506.4 841.8,491.8 846.1,497.6 849.8,495.6 853.6,502.6 857.4,508.9 861.2,509.4 865,508.9 868.8,517.8 873.1,514.5 876.8,524.8 880.6,517.8 884.4,519 888.9,508.9 892.7,510.2 896.5,512.7 900.3,519 904.1,524.6 907.9,527.8 911.6,527.1 916.2,531.6 920,530.4 923.7,525.8 927.5,531.6 931.3,527.8 935.1,525.3 939.4,531.6 943.2,534.7 946.9,529.6 950.7,535.9 954.5,533.7 958.3,532.1 962.6,530.4 966.4,537.9 970.2,537.2 973.9,537.9 977.7,530.4 981.5,522.8 985.8,512.7 989.6,511.5 993.4,519.5 997.1,513.5 1000.9,508.4 1005.5,496.3 1009.2,497.6 1013,516.5 1016.8,509.4 1020.6,520.3 1024.4,526.1 1028.2,531.6 1031.9,532.9 1036.2,529.1 1040,537.9 1043.8,538.7 1047.6,535.9 1051.4,536.7 1055.1,535.4 1058.9,537.9 1063.5,543 1067.3,547.3 1071,546 1074.8,546 1078.6,545.5 1082.4,547.3 1086.7,544.2 1090.5,548.8 1094.2,554.3 1098.8,555.6 1102.6,557.4 1106.3,554.8 1110.1,556.9 1114.4,560.6 1118.2,557.4 1122,556.3 1125.8,555.6 1130.3,561.4 1134.1,558.9 1137.9,556.9 1141.7,555.6 1145.4,550.5 1149.2,554.3 1153,554.3 1157.3,545 1161.1,548 1164.9,551.8 1168.6,551.3 1172.4,546 1176.2,550.5 1180,556.1 1184.5,555.6 1188.3,553.1 1192.1,545.5 1195.9,542.2 1199.9,537.9 1203.7,534.7 1207.7,534.2 1211.5,539.7 1215.3,538.4 1219,542.2 1223.1,541.7 1226.9,546.8 1230.6,547.5 1234.4,548 1238.2,546.3 1242,549.3 1246.5,553.1 1250.3,556.9 1254.1,556.3 1258.4,551.8 1262.2,553.1 1265.9,558.1 1269.7,546 1273.5,555.1 1277.3,553.8 1281.1,556.9 1285.4,551.3 1289.4,556.3 1293.2,558.1 1297,556.9 1300.8,556.3 1305,560.6 1308.8,559.9 1312.6,559.4 1316.4,558.9 1320.2,558.1 1324,559.9 1327.7,556.9 1332.3,558.1 1336.1,558.1 1339.8,557.4 1343.6,557.4 1347.4,549.3 1351.2,546.8 1355.5,548 1359.3,541.7 1363,537.2 1366.8,532.4 1370.6,535.4 1374.4,535.4 1378.2,527.8 1382.7,520.8 1386.5,526.1 1390.3,519 1394.1,515.7 1397.9,517.3 1402.1,519.5 1405.9,489.3 1409.7,484.2 1413.5,489.3 1418,494.3 1421.8,489.3 1425.6,477.4 1429.4,464 1433.2,456 1436.9,445.9 1441.2,430 1445,429.5 1448.8,425.7 1452.6,447.1 1456.4,457.2 1460.9,469.1 1464.7,469.8 1468.5,482.5 1472.3,477.4 1476,488.8 1479.8,497.6 1483.6,498.8 1487.4,497.6 1491.7,495.1 1495.5,497.6 1499.2,500.6 1503,503.1 1506.8,501.4 1510.8,536.7 1514.6,527.1 1518.4,526.1 1522.7,504.4 1526.5,545.5 1530.3,534.2 1534.5,515.2 1538.3,516.5 1542.1,532.1 1545.9,532.1 1549.7,530.9 1553.5,541.2 1557.8,545.5 1561.8,530.4 1565.6,524.8 1570.1,515.2" fill="none" stroke="#2626ea" stroke-width="1.4" stroke-linejoin="round"/>
</g>
<g font-family="'Liberation Serif', serif" font-size="22.3" fill="#4a4a4a">
<text x="169.9" y="605.9" text-anchor="middle" letter-spacing="0.6">10<tspan font-size="30.5" dy="5.2">/</tspan><tspan dy="-5.2">14</tspan></text>
<text x="356.6" y="605.9" text-anchor="middle" letter-spacing="0.6">10<tspan font-size="30.5" dy="5.2">/</tspan><tspan dy="-5.2">16</tspan></text>
<text x="543.3" y="605.9" text-anchor="middle" letter-spacing="0.6">10<tspan font-size="30.5" dy="5.2">/</tspan><tspan dy="-5.2">18</tspan></text>
<text x="730" y="605.9" text-anchor="middle" letter-spacing="0.6">10<tspan font-size="30.5" dy="5.2">/</tspan><tspan dy="-5.2">20</tspan></text>
<text x="916.8" y="605.9" text-anchor="middle" letter-spacing="0.6">10<tspan font-size="30.5" dy="5.2">/</tspan><tspan dy="-5.2">22</tspan></text>
<text x="1103.5" y="605.9" text-anchor="middle" letter-spacing="0.6">10<tspan font-size="30.5" dy="5.2">/</tspan><tspan dy="-5.2">24</tspan></text>
<text x="1290.2" y="605.9" text-anchor="middle" letter-spacing="0.6">10<tspan font-size="30.5" dy="5.2">/</tspan><tspan dy="-5.2">26</tspan></text>
<text x="1476.9" y="605.9" text-anchor="middle" letter-spacing="0.6">10<tspan font-size="30.5" dy="5.2">/</tspan><tspan dy="-5.2">28</tspan></text>
<text x="68.9" y="585.3" text-anchor="end">0</text>
<text x="68.9" y="540" text-anchor="end">0.5</text>
<text x="68.9" y="494.6" text-anchor="end">1</text>
<text x="68.9" y="449.3" text-anchor="end">1.5</text>
<text x="68.9" y="403.9" text-anchor="end">2</text>
<text x="68.9" y="358.6" text-anchor="end">2.5</text>
</g>
<text transform="translate(30 466.4) rotate(-90)" text-anchor="middle" font-family="'Liberation Sans', sans-serif" font-size="24" fill="#333333">Hs (m)</text>
<text x="169.0" y="394" font-family="'Liberation Sans', sans-serif" font-size="24.33" fill="#000">R=0.80, MAE=0.16, RMSD=0.23, RSE=0.48</text>
</g>
<g id="panel3">
<path d="M169.2 668.9V894.7M355.9 668.9V894.7M542.6 668.9V894.7M729.3 668.9V894.7M916.1 668.9V894.7M1102.8 668.9V894.7M1289.5 668.9V894.7M1476.2 668.9V894.7M75.8 838.2H1569.6M75.8 781.8H1569.6M75.8 725.4H1569.6" stroke="#dcdcdc" stroke-width="1" fill="none"/>
<path d="M169.2 668.9v15M169.2 894.7v-15M355.9 668.9v15M355.9 894.7v-15M542.6 668.9v15M542.6 894.7v-15M729.3 668.9v15M729.3 894.7v-15M916.1 668.9v15M916.1 894.7v-15M1102.8 668.9v15M1102.8 894.7v-15M1289.5 668.9v15M1289.5 894.7v-15M1476.2 668.9v15M1476.2 894.7v-15M75.8 838.2h15M1569.6 838.2h-15M75.8 781.8h15M1569.6 781.8h-15M75.8 725.4h15M1569.6 725.4h-15" stroke="#585858" stroke-width="1.75" fill="none"/>
<rect x="75.8" y="668.9" width="1493.8" height="225.8" fill="none" stroke="#585858" stroke-width="1.75"/>
<g clip-path="url(#c2)">
<g fill="#000"><circle cx="79.3" cy="774.8" r="1.3"/><circle cx="83.1" cy="778.5" r="1.3"/><circle cx="87.2" cy="786.1" r="1.3"/><circle cx="90.9" cy="786.1" r="1.3"/><circle cx="94.7" cy="774" r="1.3"/><circle cx="99" cy="787.9" r="1.3"/><circle cx="102.8" cy="795.4" r="1.3"/><circle cx="106.6" cy="773" r="1.3"/><circle cx="110.4" cy="797.5" r="1.3"/><circle cx="114.1" cy="818.9" r="1.3"/><circle cx="118.4" cy="771" r="1.3"/><circle cx="126" cy="771" r="1.3"/><circle cx="129.8" cy="793.2" r="1.3"/><circle cx="133.8" cy="775.5" r="1.3"/><circle cx="137.6" cy="771.7" r="1.3"/><circle cx="141.4" cy="816.9" r="1.3"/><circle cx="145.2" cy="771" r="1.3"/><circle cx="149.4" cy="774.2" r="1.3"/><circle cx="153.2" cy="814.6" r="1.3"/><circle cx="157" cy="802.5" r="1.3"/><circle cx="161.3" cy="772.7" r="1.3"/><circle cx="165.1" cy="782.3" r="1.3"/><circle cx="168.9" cy="803.8" r="1.3"/><circle cx="172.6" cy="785.3" r="1.3"/><circle cx="176.4" cy="850.4" r="1.3"/><circle cx="180.5" cy="852.9" r="1.3"/><circle cx="184.2" cy="856" r="1.3"/><circle cx="188" cy="850.9" r="1.3"/><circle cx="192.3" cy="850.4" r="1.3"/><circle cx="196.1" cy="784.1" r="1.3"/><circle cx="200.4" cy="784.1" r="1.3"/><circle cx="204.2" cy="853.7" r="1.3"/><circle cx="208" cy="781.1" r="1.3"/><circle cx="211.7" cy="854.2" r="1.3"/><circle cx="215.5" cy="779" r="1.3"/><circle cx="219.3" cy="845.9" r="1.3"/><circle cx="223.1" cy="778.5" r="1.3"/><circle cx="227.6" cy="842.1" r="1.3"/><circle cx="231.4" cy="831.5" r="1.3"/><circle cx="235.2" cy="840.3" r="1.3"/><circle cx="239" cy="830.2" r="1.3"/><circle cx="242.8" cy="829" r="1.3"/><circle cx="246.5" cy="837.3" r="1.3"/><circle cx="250.3" cy="784.1" r="1.3"/><circle cx="254.9" cy="773.5" r="1.3"/><circle cx="258.4" cy="784.1" r="1.3"/><circle cx="262.4" cy="833.5" r="1.3"/><circle cx="266.2" cy="825.2" r="1.3"/><circle cx="270.5" cy="836.5" r="1.3"/><circle cx="274.3" cy="832.3" r="1.3"/><circle cx="278.1" cy="829.5" r="1.3"/><circle cx="281.9" cy="828.5" r="1.3"/><circle cx="285.6" cy="772.2" r="1.3"/><circle cx="289.4" cy="774" r="1.3"/><circle cx="293.2" cy="832.8" r="1.3"/><circle cx="297.5" cy="783.6" r="1.3"/><circle cx="301.3" cy="788.6" r="1.3"/><circle cx="305.1" cy="831.5" r="1.3"/><circle cx="308.8" cy="828.2" r="1.3"/><circle cx="312.6" cy="794.4" r="1.3"/><circle cx="316.4" cy="782.8" r="1.3"/><circle cx="320.2" cy="830.7" r="1.3"/><circle cx="324" cy="780.6" r="1.3"/><circle cx="328" cy="779.3" r="1.3"/><circle cx="332.3" cy="776" r="1.3"/><circle cx="336.1" cy="785.6" r="1.3"/><circle cx="339.9" cy="774" r="1.3"/><circle cx="344.1" cy="791.9" r="1.3"/><circle cx="347.9" cy="789.4" r="1.3"/><circle cx="351.7" cy="782.8" r="1.3"/><circle cx="355.8" cy="776" r="1.3"/><circle cx="359.5" cy="777.8" r="1.3"/><circle cx="363.3" cy="795.4" r="1.3"/><circle cx="367.6" cy="786.1" r="1.3"/><circle cx="371.4" cy="774.8" r="1.3"/><circle cx="375.2" cy="789.9" r="1.3"/><circle cx="379.5" cy="780.6" r="1.3"/><circle cx="383.2" cy="785.6" r="1.3"/><circle cx="387" cy="796.9" r="1.3"/><circle cx="390.8" cy="788.1" r="1.3"/><circle cx="394.6" cy="861" r="1.3"/><circle cx="398.6" cy="861" r="1.3"/><circle cx="402.4" cy="859.2" r="1.3"/><circle cx="406.2" cy="853.7" r="1.3"/><circle cx="410.5" cy="852.9" r="1.3"/><circle cx="414.3" cy="852.9" r="1.3"/><circle cx="418" cy="847.1" r="1.3"/><circle cx="421.8" cy="844.1" r="1.3"/><circle cx="426.1" cy="841.1" r="1.3"/><circle cx="429.9" cy="834" r="1.3"/><circle cx="433.7" cy="834" r="1.3"/><circle cx="437.5" cy="826.5" r="1.3"/><circle cx="441.2" cy="820.7" r="1.3"/><circle cx="445" cy="821.4" r="1.3"/><circle cx="449.1" cy="817.6" r="1.3"/><circle cx="452.8" cy="813.8" r="1.3"/><circle cx="456.9" cy="814.6" r="1.3"/><circle cx="460.7" cy="810.8" r="1.3"/><circle cx="464.5" cy="810.1" r="1.3"/><circle cx="468.2" cy="808.8" r="1.3"/><circle cx="472" cy="785.3" r="1.3"/><circle cx="475.8" cy="787.9" r="1.3"/><circle cx="479.6" cy="789.1" r="1.3"/><circle cx="483.4" cy="798.7" r="1.3"/><circle cx="487.2" cy="797.5" r="1.3"/><circle cx="490.9" cy="787.9" r="1.3"/><circle cx="494.7" cy="799.2" r="1.3"/><circle cx="498.5" cy="801.7" r="1.3"/><circle cx="503.1" cy="853.4" r="1.3"/><circle cx="506.8" cy="782.3" r="1.3"/><circle cx="510.6" cy="804.3" r="1.3"/><circle cx="514.4" cy="805" r="1.3"/><circle cx="518.7" cy="806.3" r="1.3"/><circle cx="523.2" cy="861.8" r="1.3"/><circle cx="527" cy="861" r="1.3"/><circle cx="530.8" cy="848.4" r="1.3"/><circle cx="534.6" cy="863.8" r="1.3"/><circle cx="538.4" cy="785.6" r="1.3"/><circle cx="542.4" cy="790.6" r="1.3"/><circle cx="546.2" cy="796.2" r="1.3"/><circle cx="550" cy="796.2" r="1.3"/><circle cx="553.7" cy="799.5" r="1.3"/><circle cx="557.5" cy="800" r="1.3"/><circle cx="561.3" cy="788.6" r="1.3"/><circle cx="565.1" cy="801.2" r="1.3"/><circle cx="568.9" cy="784.1" r="1.3"/><circle cx="573.7" cy="798.2" r="1.3"/><circle cx="577.5" cy="799.5" r="1.3"/><circle cx="581.2" cy="795.7" r="1.3"/><circle cx="585" cy="806.8" r="1.3"/><circle cx="588.8" cy="799.2" r="1.3"/><circle cx="592.6" cy="800.5" r="1.3"/><circle cx="596.4" cy="805" r="1.3"/><circle cx="600.7" cy="774.8" r="1.3"/><circle cx="604.4" cy="813.1" r="1.3"/><circle cx="608.2" cy="804.3" r="1.3"/><circle cx="612" cy="813.8" r="1.3"/><circle cx="615.8" cy="805.5" r="1.3"/><circle cx="620.3" cy="781.1" r="1.3"/><circle cx="624.1" cy="792.4" r="1.3"/><circle cx="627.9" cy="795.4" r="1.3"/><circle cx="631.7" cy="789.1" r="1.3"/><circle cx="635.5" cy="776.8" r="1.3"/><circle cx="639.2" cy="778" r="1.3"/><circle cx="643" cy="775.5" r="1.3"/><circle cx="647.6" cy="784.1" r="1.3"/><circle cx="651.3" cy="810.1" r="1.3"/><circle cx="655.1" cy="779.3" r="1.3"/><circle cx="658.9" cy="795.4" r="1.3"/><circle cx="663.2" cy="782.8" r="1.3"/><circle cx="667" cy="776" r="1.3"/><circle cx="670.8" cy="815.6" r="1.3"/><circle cx="674.6" cy="796.7" r="1.3"/><circle cx="678.3" cy="815.1" r="1.3"/><circle cx="682.6" cy="774.2" r="1.3"/><circle cx="686.4" cy="783.6" r="1.3"/><circle cx="690.2" cy="788.6" r="1.3"/><circle cx="694" cy="793.7" r="1.3"/><circle cx="697.8" cy="789.9" r="1.3"/><circle cx="701.5" cy="839.8" r="1.3"/><circle cx="705.3" cy="831.5" r="1.3"/><circle cx="709.1" cy="825.7" r="1.3"/><circle cx="713.6" cy="795.4" r="1.3"/><circle cx="717.4" cy="810.6" r="1.3"/><circle cx="721.2" cy="821.4" r="1.3"/><circle cx="725" cy="798.2" r="1.3"/><circle cx="729" cy="787.9" r="1.3"/><circle cx="732.8" cy="805.8" r="1.3"/><circle cx="736.6" cy="792.9" r="1.3"/><circle cx="740.6" cy="788.6" r="1.3"/><circle cx="744.4" cy="792.9" r="1.3"/><circle cx="779.2" cy="847.1" r="1.3"/><circle cx="787.3" cy="841.6" r="1.3"/><circle cx="791.1" cy="835.3" r="1.3"/><circle cx="794.9" cy="832.8" r="1.3"/><circle cx="798.6" cy="834" r="1.3"/><circle cx="803.2" cy="827" r="1.3"/><circle cx="807" cy="820.2" r="1.3"/><circle cx="810.7" cy="816.4" r="1.3"/><circle cx="814.5" cy="798.7" r="1.3"/><circle cx="818.3" cy="780.3" r="1.3"/><circle cx="822.1" cy="791.1" r="1.3"/><circle cx="826.4" cy="788.6" r="1.3"/><circle cx="830.2" cy="785.6" r="1.3"/><circle cx="834" cy="791.1" r="1.3"/><circle cx="838.2" cy="822.2" r="1.3"/><circle cx="842" cy="825.7" r="1.3"/><circle cx="845.8" cy="785.6" r="1.3"/><circle cx="849.6" cy="803.3" r="1.3"/><circle cx="853.4" cy="808.3" r="1.3"/><circle cx="857.2" cy="810.6" r="1.3"/><circle cx="861.5" cy="779" r="1.3"/><circle cx="865.2" cy="802.5" r="1.3"/><circle cx="869" cy="791.9" r="1.3"/><circle cx="872.8" cy="783.6" r="1.3"/><circle cx="876.8" cy="802" r="1.3"/><circle cx="880.6" cy="795.4" r="1.3"/><circle cx="884.9" cy="809.3" r="1.3"/><circle cx="888.7" cy="808.8" r="1.3"/><circle cx="892.7" cy="815.6" r="1.3"/><circle cx="896.5" cy="796.2" r="1.3"/><circle cx="900.3" cy="786.9" r="1.3"/><circle cx="904.1" cy="794.9" r="1.3"/><circle cx="907.9" cy="794.9" r="1.3"/><circle cx="911.6" cy="791.1" r="1.3"/><circle cx="915.4" cy="790.6" r="1.3"/><circle cx="920.2" cy="779.8" r="1.3"/><circle cx="924" cy="792.4" r="1.3"/><circle cx="927.8" cy="785.3" r="1.3"/><circle cx="931.6" cy="795.4" r="1.3"/><circle cx="935.3" cy="791.1" r="1.3"/><circle cx="939.1" cy="787.4" r="1.3"/><circle cx="943.4" cy="800" r="1.3"/><circle cx="947.2" cy="791.1" r="1.3"/><circle cx="951" cy="791.1" r="1.3"/><circle cx="954.8" cy="784.3" r="1.3"/><circle cx="958.5" cy="778.5" r="1.3"/><circle cx="962.3" cy="790.4" r="1.3"/><circle cx="966.4" cy="787.9" r="1.3"/><circle cx="970.2" cy="794.4" r="1.3"/><circle cx="974.4" cy="798.7" r="1.3"/><circle cx="978.2" cy="813.8" r="1.3"/><circle cx="982" cy="808.3" r="1.3"/><circle cx="985.8" cy="796.9" r="1.3"/><circle cx="989.6" cy="817.1" r="1.3"/><circle cx="993.4" cy="818.9" r="1.3"/><circle cx="997.1" cy="786.9" r="1.3"/><circle cx="1005.5" cy="786.6" r="1.3"/><circle cx="1000.9" cy="849.9" r="1.3"/><circle cx="1009.2" cy="850.9" r="1.3"/><circle cx="1013" cy="857.5" r="1.3"/><circle cx="1017.3" cy="794.4" r="1.3"/><circle cx="1021.1" cy="851.7" r="1.3"/><circle cx="1024.9" cy="847.9" r="1.3"/><circle cx="1028.7" cy="844.9" r="1.3"/><circle cx="1032.4" cy="846.6" r="1.3"/><circle cx="1037" cy="839.8" r="1.3"/><circle cx="1040.8" cy="801.2" r="1.3"/><circle cx="1044.6" cy="839.8" r="1.3"/><circle cx="1048.3" cy="796.9" r="1.3"/><circle cx="1052.1" cy="826.5" r="1.3"/><circle cx="1055.9" cy="777.3" r="1.3"/><circle cx="1059.7" cy="796.9" r="1.3"/><circle cx="1064" cy="810.6" r="1.3"/><circle cx="1067.8" cy="778" r="1.3"/><circle cx="1071.5" cy="798.2" r="1.3"/><circle cx="1075.3" cy="779.8" r="1.3"/><circle cx="1079.1" cy="796.9" r="1.3"/><circle cx="1083.1" cy="793.7" r="1.3"/><circle cx="1086.9" cy="789.4" r="1.3"/><circle cx="1090.7" cy="792.4" r="1.3"/><circle cx="1095" cy="796.2" r="1.3"/><circle cx="1099" cy="791.7" r="1.3"/><circle cx="1102.8" cy="789.9" r="1.3"/><circle cx="1106.6" cy="791.1" r="1.3"/><circle cx="1110.6" cy="776" r="1.3"/><circle cx="1114.4" cy="798" r="1.3"/><circle cx="1118.2" cy="774.2" r="1.3"/><circle cx="1122" cy="771.7" r="1.3"/><circle cx="1125.8" cy="783.6" r="1.3"/><circle cx="1129.5" cy="778" r="1.3"/><circle cx="1134.1" cy="784.8" r="1.3"/><circle cx="1137.9" cy="803" r="1.3"/><circle cx="1141.7" cy="798.7" r="1.3"/><circle cx="1145.4" cy="791.1" r="1.3"/><circle cx="1149.2" cy="791.1" r="1.3"/><circle cx="1153.5" cy="798.2" r="1.3"/><circle cx="1157.3" cy="793.7" r="1.3"/><circle cx="1161.1" cy="803" r="1.3"/><circle cx="1164.9" cy="780.6" r="1.3"/><circle cx="1168.6" cy="794.9" r="1.3"/><circle cx="1172.4" cy="805.5" r="1.3"/><circle cx="1176.2" cy="791.9" r="1.3"/><circle cx="1180.5" cy="813.1" r="1.3"/><circle cx="1184.3" cy="793.7" r="1.3"/><circle cx="1188.3" cy="791.1" r="1.3"/><circle cx="1192.1" cy="790.4" r="1.3"/><circle cx="1195.9" cy="795.7" r="1.3"/><circle cx="1199.9" cy="799.5" r="1.3"/><circle cx="1203.7" cy="789.4" r="1.3"/><circle cx="1207.9" cy="781.1" r="1.3"/><circle cx="1211.7" cy="789.9" r="1.3"/><circle cx="1215.5" cy="798" r="1.3"/><circle cx="1219.3" cy="798.7" r="1.3"/><circle cx="1223.1" cy="791.9" r="1.3"/><circle cx="1226.9" cy="796.9" r="1.3"/><circle cx="1230.9" cy="788.1" r="1.3"/><circle cx="1234.9" cy="784.1" r="1.3"/><circle cx="1238.7" cy="772.2" r="1.3"/><circle cx="1242.7" cy="784.8" r="1.3"/><circle cx="1246.5" cy="776" r="1.3"/><circle cx="1250.3" cy="772.2" r="1.3"/><circle cx="1254.6" cy="794.2" r="1.3"/><circle cx="1258.4" cy="788.6" r="1.3"/><circle cx="1262.2" cy="795.7" r="1.3"/><circle cx="1265.9" cy="789.1" r="1.3"/><circle cx="1269.7" cy="790.4" r="1.3"/><circle cx="1273.5" cy="794.9" r="1.3"/><circle cx="1277.3" cy="799.5" r="1.3"/><circle cx="1281.3" cy="780.6" r="1.3"/><circle cx="1285.4" cy="790.4" r="1.3"/><circle cx="1289.4" cy="789.4" r="1.3"/><circle cx="1293.2" cy="790.4" r="1.3"/><circle cx="1297.2" cy="789.9" r="1.3"/><circle cx="1301" cy="783.6" r="1.3"/><circle cx="1304.8" cy="796.2" r="1.3"/><circle cx="1308.8" cy="798.7" r="1.3"/><circle cx="1312.6" cy="798.7" r="1.3"/><circle cx="1316.4" cy="799.2" r="1.3"/><circle cx="1320.2" cy="792.9" r="1.3"/><circle cx="1324" cy="803" r="1.3"/><circle cx="1327.7" cy="791.9" r="1.3"/><circle cx="1332.3" cy="801.2" r="1.3"/><circle cx="1336.1" cy="800" r="1.3"/><circle cx="1339.8" cy="782.3" r="1.3"/><circle cx="1343.6" cy="783.6" r="1.3"/><circle cx="1347.4" cy="784.1" r="1.3"/><circle cx="1351.2" cy="791.7" r="1.3"/><circle cx="1355.5" cy="780.6" r="1.3"/><circle cx="1359.3" cy="774.2" r="1.3"/><circle cx="1363.3" cy="825.2" r="1.3"/><circle cx="1367.1" cy="805.8" r="1.3"/><circle cx="1370.9" cy="807" r="1.3"/><circle cx="1374.7" cy="782.3" r="1.3"/><circle cx="1378.4" cy="803.3" r="1.3"/><circle cx="1382.7" cy="860" r="1.3"/><circle cx="1386.5" cy="850.9" r="1.3"/><circle cx="1390.3" cy="852.2" r="1.3"/><circle cx="1394.1" cy="810.6" r="1.3"/><circle cx="1397.9" cy="855" r="1.3"/><circle cx="1402.1" cy="853.4" r="1.3"/><circle cx="1405.9" cy="853.4" r="1.3"/><circle cx="1409.7" cy="857.5" r="1.3"/><circle cx="1413.5" cy="854.7" r="1.3"/><circle cx="1417.3" cy="847.1" r="1.3"/><circle cx="1421.1" cy="846.6" r="1.3"/><circle cx="1424.8" cy="840.3" r="1.3"/><circle cx="1428.6" cy="839.1" r="1.3"/><circle cx="1433.2" cy="851.7" r="1.3"/><circle cx="1436.9" cy="852.2" r="1.3"/><circle cx="1440.7" cy="849.7" r="1.3"/><circle cx="1444.5" cy="843.4" r="1.3"/><circle cx="1448.3" cy="835.8" r="1.3"/><circle cx="1452.1" cy="842.1" r="1.3"/><circle cx="1456.4" cy="826.5" r="1.3"/><circle cx="1460.4" cy="818.1" r="1.3"/><circle cx="1464.7" cy="824.7" r="1.3"/><circle cx="1468.5" cy="821.4" r="1.3"/><circle cx="1472.3" cy="832.8" r="1.3"/><circle cx="1476" cy="808.8" r="1.3"/><circle cx="1479.8" cy="808.3" r="1.3"/><circle cx="1484.1" cy="800" r="1.3"/><circle cx="1487.9" cy="791.7" r="1.3"/><circle cx="1491.7" cy="803" r="1.3"/><circle cx="1495.5" cy="796.2" r="1.3"/><circle cx="1499.2" cy="801.2" r="1.3"/><circle cx="1503" cy="801.7" r="1.3"/><circle cx="1506.8" cy="801.2" r="1.3"/><circle cx="1510.8" cy="808.8" r="1.3"/><circle cx="1514.6" cy="808.8" r="1.3"/><circle cx="1518.4" cy="810.1" r="1.3"/><circle cx="1522.7" cy="816.9" r="1.3"/><circle cx="1526.5" cy="804.5" r="1.3"/><circle cx="1530.8" cy="820.7" r="1.3"/><circle cx="1534.5" cy="811.8" r="1.3"/><circle cx="1538.3" cy="810.6" r="1.3"/><circle cx="1542.1" cy="813.8" r="1.3"/><circle cx="1545.9" cy="811.3" r="1.3"/><circle cx="1549.7" cy="813.8" r="1.3"/><circle cx="1553.5" cy="812.1" r="1.3"/><circle cx="1557.8" cy="815.6" r="1.3"/><circle cx="1561.8" cy="820.7" r="1.3"/><circle cx="1565.6" cy="817.1" r="1.3"/><circle cx="1570.1" cy="818.1" r="1.3"/></g>
<polyline points="75.5,798.7 79.3,778.5 83.1,786.1 87.2,763.9 90.9,813.8 94.7,745.2 99,762.9 102.8,745.8 107.1,782.8 110.4,781.1 114.1,797.5 117.9,804.3 122.2,781.1 126,796.2 129.8,801.2 133.8,847.1 137.6,847.1 141.4,845.4 145.2,844.9 149.4,854.2 153.2,852.2 157,851.2 160.8,840.3 165.1,822.2 168.9,826.5 172.6,817.6 176.4,831.5 180.5,846.6 184.8,833.5 188.5,834 192.3,821.4 196.1,846.6 200.4,772.2 204.2,811.3 208,775.5 211.7,780.6 215.5,804.3 219.3,812.6 223.1,833.5 227.6,822.2 231.4,831.5 235.2,813.8 239,786.9 242.8,789.1 246.5,854.7 250.3,853.7 254.9,859.2 257.9,857.2 262.4,812.6 266.2,805.8 270.5,803.3 274.3,806.3 278.1,810.6 281.9,832.3 285.6,818.1 289.4,826.5 293.2,842.1 297.5,783.1 301.3,808 305.1,797.5 308.8,786.1 312.6,802.5 316.4,821.4 320.2,845.4 324,854.2 328,861 332.3,852.4 336.1,855.5 339.9,852.9 344.1,861.8 347.9,859.2 351.7,859.2 355.8,853.7 359.5,857.2 363.3,864.3 367.6,860.5 371.4,858.7 375.2,858 379.5,851.7 383.2,856.7 387,856.2 390.8,856.7 394.6,855.5 398.6,858.5 402.4,855.5 406.2,852.9 410.5,850.4 414.3,847.1 418,842.3 421.8,840.3 426.1,834.5 429.9,834 433.7,836.5 437.5,839.6 441.2,867.3 445,864.3 449.1,866.8 452.8,865.5 456.9,870.1 460.7,868.8 464.5,868.1 468.2,870.6 472,868.1 475.8,866.3 479.6,868.1 483.4,864.3 487.2,860 490.9,859.2 494.7,863.8 498.5,866.8 502.3,867.3 506.8,867.3 510.6,866.3 514.4,868.8 518.2,869.3 523.2,866.8 527,868.1 530.8,868.8 534.6,870.6 538.4,871.3 542.4,872.4 546.2,873.1 550,874.4 553.7,875.6 557.5,874.4 561.3,876.9 565.1,876.4 568.9,877.4 573.7,879.4 577.5,876.9 581.2,876.1 585,876.4 588.8,876.4 592.6,876.1 597.6,873.9 601.4,874.9 605.2,876.9 609,878.2 612.8,875.6 616.5,876.4 620.3,876.4 624.1,876.4 627.9,866.3 631.7,836.5 635.5,736.2 639.2,736.2 640,1013.1 646.8,1013.1 647.6,710.4 651.3,723.1 655.1,829.5 658.9,820.2 663.2,840.3 667,821.4 670.8,798.2 674.6,826.5 678.3,851.7 682.1,863 687.2,860.5 692.2,848.7 697.3,835.8 701.5,848.7 705.3,861.8 709.9,866.8 714.9,864.3 719.9,861.8 724.2,848.7 729,744.5 732.6,736.2 736.6,736.2 740.6,848.7 744.4,861.8 752.7,864.3 760.3,861.8 767.9,859.2 775.4,847.9 779.2,846.6 783,847.1 787.3,835.3 791.1,835.3 794.9,829.5 798.6,821.4 803.2,822.2 807,822.7 810.7,825.7 814.5,821.4 818.3,816.4 822.1,848.7 825.1,861.8 832.7,864.3 840.3,848.7 846.6,834 850.4,835.8 854.1,834.8 857.9,839.8 861.7,831.5 865.5,830.2 869.3,831.5 873.1,831 877.3,836 881.1,821.4 884.9,813.3 888.7,843.6 892.7,843.4 896.5,844.1 900.3,831.5 904.6,806.3 908.4,815.1 912.1,831.5 915.9,811.8 920.2,830.2 924,832.3 927.8,840.3 931.6,839.6 935.3,844.6 939.6,813.3 943.4,829.5 947.2,790.4 951,797.5 954.8,789.1 958.5,827 962.3,821.4 966.4,830.2 970.7,844.1 974.4,823.9 978.2,848.7 982,847.9 985.8,849.7 989.6,851.2 993.4,844.9 997.1,850.9 1000.9,852.4 1004.7,855 1009.2,845.9 1013,852.9 1016.8,847.9 1020.6,834 1024.9,814.6 1028.7,828.5 1032.4,832 1037,808 1040.8,811.3 1044.6,818.9 1048.3,823.4 1052.1,827.7 1055.9,847.4 1059.7,858.7 1064,845.4 1067.8,847.9 1071.5,836 1075.3,852.4 1079.1,853.7 1083.1,846.1 1087.4,856 1091.2,847.9 1095,823.9 1099,817.1 1102.8,832.8 1106.6,830.7 1110.6,796.9 1114.4,796.2 1118.2,789.1 1122,835.3 1125.8,781.8 1129.5,789.9 1134.1,811.8 1137.9,809.3 1141.7,792.4 1145.4,796.2 1150.5,806.3 1153.5,796.9 1157.3,850.4 1161.1,859.2 1164.9,859.2 1168.6,862.5 1172.4,864.8 1176.2,851.7 1180.5,816.9 1184.3,841.6 1188.3,832.8 1192.1,840.3 1195.9,851.2 1199.9,856.2 1203.7,860 1207.4,859.2 1211.2,861.8 1215.5,859.2 1219.3,860.5 1223.1,858 1226.9,856.2 1230.9,858 1234.9,845.9 1238.7,855.5 1242.7,850.4 1246.5,837.8 1250.3,826 1254.6,847.9 1258.4,857.5 1262.2,861 1265.9,853.4 1269.7,864.3 1273.5,850.4 1277.3,854.2 1281.1,844.9 1285.4,851.7 1289.4,822.7 1293.2,820.2 1297.2,837.8 1301,806.8 1304.8,812.6 1308.8,837.3 1312.6,798 1316.4,798.7 1320.2,800.5 1324,816.9 1327.7,810.1 1332.3,801.2 1336.1,723.6 1339.8,806.8 1343.6,781.6 1347.4,846.6 1351.2,859.2 1355,856.2 1358.8,863 1363.3,869.3 1367.1,868.1 1370.9,866.8 1375.2,866.1 1378.9,865.5 1382.7,864.8 1386.5,864.3 1390.3,861.8 1394.1,859.2 1397.9,856.7 1402.1,859.7 1405.9,858 1409.7,857.5 1413.5,853.4 1417.3,852.4 1421.1,847.4 1424.8,849.2 1428.6,845.4 1433.2,843.4 1436.9,842.8 1440.7,837.3 1444.5,836 1448.3,837.8 1452.1,837.3 1456.4,833.3 1460.9,837.8 1464.7,832.8 1468.5,817.6 1472.3,815.9 1476,808 1479.8,811.8 1484.1,820.7 1487.9,815.1 1491.7,825.2 1495.5,826.5 1499.2,826.5 1503,825.2 1506.8,829.7 1510.8,783.6 1514.6,794.9 1518.4,810.6 1522.7,826.5 1526.5,855.5 1530.8,798.7 1534.5,842.3 1538.3,839.6 1542.1,865 1545.9,855.5 1549.7,848.7 1553.5,844.1 1557.8,842.8 1561.8,856.2 1565.6,843.4 1570.1,850.9" fill="none" stroke="#2626ea" stroke-width="1.4" stroke-linejoin="round"/>
</g>
<g font-family="'Liberation Serif', serif" font-size="22.3" fill="#4a4a4a">
<text x="169.9" y="920.8" text-anchor="middle" letter-spacing="0.6">10<tspan font-size="30.5" dy="5.2">/</tspan><tspan dy="-5.2">14</tspan></text>
<text x="356.6" y="920.8" text-anchor="middle" letter-spacing="0.6">10<tspan font-size="30.5" dy="5.2">/</tspan><tspan dy="-5.2">16</tspan></text>
<text x="543.3" y="920.8" text-anchor="middle" letter-spacing="0.6">10<tspan font-size="30.5" dy="5.2">/</tspan><tspan dy="-5.2">18</tspan></text>
<text x="730" y="920.8" text-anchor="middle" letter-spacing="0.6">10<tspan font-size="30.5" dy="5.2">/</tspan><tspan dy="-5.2">20</tspan></text>
<text x="916.8" y="920.8" text-anchor="middle" letter-spacing="0.6">10<tspan font-size="30.5" dy="5.2">/</tspan><tspan dy="-5.2">22</tspan></text>
<text x="1103.5" y="920.8" text-anchor="middle" letter-spacing="0.6">10<tspan font-size="30.5" dy="5.2">/</tspan><tspan dy="-5.2">24</tspan></text>
<text x="1290.2" y="920.8" text-anchor="middle" letter-spacing="0.6">10<tspan font-size="30.5" dy="5.2">/</tspan><tspan dy="-5.2">26</tspan></text>
<text x="1476.9" y="920.8" text-anchor="middle" letter-spacing="0.6">10<tspan font-size="30.5" dy="5.2">/</tspan><tspan dy="-5.2">28</tspan></text>
<text x="68.9" y="900.2" text-anchor="end">0</text>
<text x="68.9" y="843.8" text-anchor="end">5</text>
<text x="68.9" y="787.3" text-anchor="end">10</text>
<text x="68.9" y="730.9" text-anchor="end">15</text>
<text x="68.9" y="674.4" text-anchor="end">20</text>
</g>
<text transform="translate(35.6 781.8) rotate(-90)" text-anchor="middle" font-family="'Liberation Sans', sans-serif" font-size="24" fill="#333333">Tp (s)</text>
<text x="169.0" y="696.5" font-family="'Liberation Sans', sans-serif" font-size="24.33" fill="#000">R=-0.06, MAE=6.06, RMSD=51.62, RSE=563.76</text>
</g>
<text x="822.5" y="31.3" text-anchor="middle" font-family="'Liberation Sans', sans-serif" font-weight="bold" font-size="24" fill="#000">Station: Loc 3</text>
<text x="822.5" y="953" text-anchor="middle" font-family="'Liberation Sans', sans-serif" font-size="24.1" fill="#333333">date (2019)</text>
<g id="legend">
<rect x="645.7" y="849.5" width="353.7" height="31.6" fill="#fff" stroke="#585858" stroke-width="1.5"/>
<circle cx="689.9" cy="865.3" r="1.3" fill="#000"/>
<path d="M859 865.4H932.3" stroke="#2626ea" stroke-width="1.4"/>
<text x="731.5" y="873.3" font-family="'Liberation Sans', sans-serif" font-size="19.8" fill="#1c1c1c">observations</text>
<text x="938.3" y="873.3" font-family="'Liberation Sans', sans-serif" font-size="19.8" fill="#1c1c1c">model</text>
</g>
</svg>
</body></html>
